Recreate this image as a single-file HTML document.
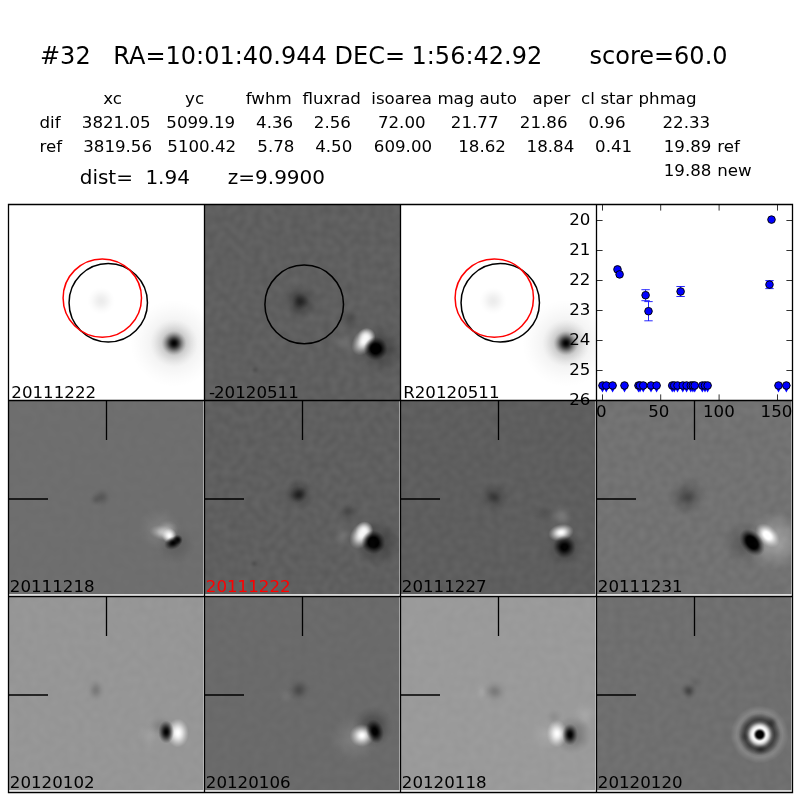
<!DOCTYPE html>
<html lang="en"><head><meta charset="utf-8"><title>candidate 32</title>
<style>
html,body{margin:0;padding:0;background:#fff;overflow:hidden}
svg{display:block;font-family:'DejaVu Sans','Liberation Sans',sans-serif;will-change:transform}
</style></head><body>
<svg width="800" height="800" viewBox="0 0 800 800">
<defs>
<radialGradient id="g1"><stop offset="0.000" stop-color="#000" stop-opacity="0.0900"/><stop offset="0.083" stop-color="#000" stop-opacity="0.0886"/><stop offset="0.167" stop-color="#000" stop-opacity="0.0844"/><stop offset="0.250" stop-color="#000" stop-opacity="0.0778"/><stop offset="0.333" stop-color="#000" stop-opacity="0.0693"/><stop offset="0.417" stop-color="#000" stop-opacity="0.0595"/><stop offset="0.500" stop-color="#000" stop-opacity="0.0490"/><stop offset="0.583" stop-color="#000" stop-opacity="0.0386"/><stop offset="0.667" stop-color="#000" stop-opacity="0.0287"/><stop offset="0.750" stop-color="#000" stop-opacity="0.0197"/><stop offset="0.833" stop-color="#000" stop-opacity="0.0119"/><stop offset="0.917" stop-color="#000" stop-opacity="0.0053"/><stop offset="1.000" stop-color="#000" stop-opacity="0.0000"/></radialGradient>
<radialGradient id="g2"><stop offset="0.000" stop-color="#000" stop-opacity="0.2800"/><stop offset="0.083" stop-color="#000" stop-opacity="0.2749"/><stop offset="0.167" stop-color="#000" stop-opacity="0.2600"/><stop offset="0.250" stop-color="#000" stop-opacity="0.2369"/><stop offset="0.333" stop-color="#000" stop-opacity="0.2075"/><stop offset="0.417" stop-color="#000" stop-opacity="0.1746"/><stop offset="0.500" stop-color="#000" stop-opacity="0.1405"/><stop offset="0.583" stop-color="#000" stop-opacity="0.1076"/><stop offset="0.667" stop-color="#000" stop-opacity="0.0775"/><stop offset="0.750" stop-color="#000" stop-opacity="0.0515"/><stop offset="0.833" stop-color="#000" stop-opacity="0.0299"/><stop offset="0.917" stop-color="#000" stop-opacity="0.0129"/><stop offset="1.000" stop-color="#000" stop-opacity="0.0000"/></radialGradient>
<radialGradient id="g3"><stop offset="0.000" stop-color="#000" stop-opacity="1.0000"/><stop offset="0.083" stop-color="#000" stop-opacity="0.9804"/><stop offset="0.167" stop-color="#000" stop-opacity="0.9237"/><stop offset="0.250" stop-color="#000" stop-opacity="0.8360"/><stop offset="0.333" stop-color="#000" stop-opacity="0.7259"/><stop offset="0.417" stop-color="#000" stop-opacity="0.6036"/><stop offset="0.500" stop-color="#000" stop-opacity="0.4792"/><stop offset="0.583" stop-color="#000" stop-opacity="0.3612"/><stop offset="0.667" stop-color="#000" stop-opacity="0.2558"/><stop offset="0.750" stop-color="#000" stop-opacity="0.1667"/><stop offset="0.833" stop-color="#000" stop-opacity="0.0951"/><stop offset="0.917" stop-color="#000" stop-opacity="0.0402"/><stop offset="1.000" stop-color="#000" stop-opacity="0.0000"/></radialGradient>
<radialGradient id="g4"><stop offset="0.000" stop-color="#000" stop-opacity="0.0750"/><stop offset="0.083" stop-color="#000" stop-opacity="0.0736"/><stop offset="0.167" stop-color="#000" stop-opacity="0.0696"/><stop offset="0.250" stop-color="#000" stop-opacity="0.0634"/><stop offset="0.333" stop-color="#000" stop-opacity="0.0556"/><stop offset="0.417" stop-color="#000" stop-opacity="0.0468"/><stop offset="0.500" stop-color="#000" stop-opacity="0.0376"/><stop offset="0.583" stop-color="#000" stop-opacity="0.0288"/><stop offset="0.667" stop-color="#000" stop-opacity="0.0208"/><stop offset="0.750" stop-color="#000" stop-opacity="0.0138"/><stop offset="0.833" stop-color="#000" stop-opacity="0.0080"/><stop offset="0.917" stop-color="#000" stop-opacity="0.0035"/><stop offset="1.000" stop-color="#000" stop-opacity="0.0000"/></radialGradient>
<clipPath id="c00"><rect x="8.5" y="204.5" width="196.0" height="196.0"/></clipPath>
<radialGradient id="g5"><stop offset="0.000" stop-color="#000" stop-opacity="0.3200"/><stop offset="0.083" stop-color="#000" stop-opacity="0.3141"/><stop offset="0.167" stop-color="#000" stop-opacity="0.2972"/><stop offset="0.250" stop-color="#000" stop-opacity="0.2707"/><stop offset="0.333" stop-color="#000" stop-opacity="0.2372"/><stop offset="0.417" stop-color="#000" stop-opacity="0.1995"/><stop offset="0.500" stop-color="#000" stop-opacity="0.1606"/><stop offset="0.583" stop-color="#000" stop-opacity="0.1229"/><stop offset="0.667" stop-color="#000" stop-opacity="0.0886"/><stop offset="0.750" stop-color="#000" stop-opacity="0.0588"/><stop offset="0.833" stop-color="#000" stop-opacity="0.0342"/><stop offset="0.917" stop-color="#000" stop-opacity="0.0147"/><stop offset="1.000" stop-color="#000" stop-opacity="0.0000"/></radialGradient>
<radialGradient id="g6"><stop offset="0.000" stop-color="#000" stop-opacity="0.4800"/><stop offset="0.083" stop-color="#000" stop-opacity="0.4712"/><stop offset="0.167" stop-color="#000" stop-opacity="0.4457"/><stop offset="0.250" stop-color="#000" stop-opacity="0.4060"/><stop offset="0.333" stop-color="#000" stop-opacity="0.3558"/><stop offset="0.417" stop-color="#000" stop-opacity="0.2993"/><stop offset="0.500" stop-color="#000" stop-opacity="0.2409"/><stop offset="0.583" stop-color="#000" stop-opacity="0.1844"/><stop offset="0.667" stop-color="#000" stop-opacity="0.1329"/><stop offset="0.750" stop-color="#000" stop-opacity="0.0882"/><stop offset="0.833" stop-color="#000" stop-opacity="0.0513"/><stop offset="0.917" stop-color="#000" stop-opacity="0.0221"/><stop offset="1.000" stop-color="#000" stop-opacity="0.0000"/></radialGradient>
<radialGradient id="g7"><stop offset="0.000" stop-color="#000" stop-opacity="0.1400"/><stop offset="0.083" stop-color="#000" stop-opacity="0.1366"/><stop offset="0.167" stop-color="#000" stop-opacity="0.1270"/><stop offset="0.250" stop-color="#000" stop-opacity="0.1124"/><stop offset="0.333" stop-color="#000" stop-opacity="0.0946"/><stop offset="0.417" stop-color="#000" stop-opacity="0.0757"/><stop offset="0.500" stop-color="#000" stop-opacity="0.0573"/><stop offset="0.583" stop-color="#000" stop-opacity="0.0410"/><stop offset="0.667" stop-color="#000" stop-opacity="0.0273"/><stop offset="0.750" stop-color="#000" stop-opacity="0.0167"/><stop offset="0.833" stop-color="#000" stop-opacity="0.0089"/><stop offset="0.917" stop-color="#000" stop-opacity="0.0035"/><stop offset="1.000" stop-color="#000" stop-opacity="0.0000"/></radialGradient>
<radialGradient id="g8"><stop offset="0.000" stop-color="#000" stop-opacity="0.3000"/><stop offset="0.083" stop-color="#000" stop-opacity="0.2952"/><stop offset="0.167" stop-color="#000" stop-opacity="0.2813"/><stop offset="0.250" stop-color="#000" stop-opacity="0.2592"/><stop offset="0.333" stop-color="#000" stop-opacity="0.2309"/><stop offset="0.417" stop-color="#000" stop-opacity="0.1982"/><stop offset="0.500" stop-color="#000" stop-opacity="0.1635"/><stop offset="0.583" stop-color="#000" stop-opacity="0.1287"/><stop offset="0.667" stop-color="#000" stop-opacity="0.0957"/><stop offset="0.750" stop-color="#000" stop-opacity="0.0657"/><stop offset="0.833" stop-color="#000" stop-opacity="0.0396"/><stop offset="0.917" stop-color="#000" stop-opacity="0.0177"/><stop offset="1.000" stop-color="#000" stop-opacity="0.0000"/></radialGradient>
<radialGradient id="g9"><stop offset="0.000" stop-color="#000" stop-opacity="0.2000"/><stop offset="0.083" stop-color="#000" stop-opacity="0.1952"/><stop offset="0.167" stop-color="#000" stop-opacity="0.1814"/><stop offset="0.250" stop-color="#000" stop-opacity="0.1606"/><stop offset="0.333" stop-color="#000" stop-opacity="0.1352"/><stop offset="0.417" stop-color="#000" stop-opacity="0.1081"/><stop offset="0.500" stop-color="#000" stop-opacity="0.0819"/><stop offset="0.583" stop-color="#000" stop-opacity="0.0585"/><stop offset="0.667" stop-color="#000" stop-opacity="0.0390"/><stop offset="0.750" stop-color="#000" stop-opacity="0.0239"/><stop offset="0.833" stop-color="#000" stop-opacity="0.0128"/><stop offset="0.917" stop-color="#000" stop-opacity="0.0050"/><stop offset="1.000" stop-color="#000" stop-opacity="0.0000"/></radialGradient>
<radialGradient id="g10"><stop offset="0.000" stop-color="#fff" stop-opacity="0.1000"/><stop offset="0.083" stop-color="#fff" stop-opacity="0.0976"/><stop offset="0.167" stop-color="#fff" stop-opacity="0.0907"/><stop offset="0.250" stop-color="#fff" stop-opacity="0.0803"/><stop offset="0.333" stop-color="#fff" stop-opacity="0.0676"/><stop offset="0.417" stop-color="#fff" stop-opacity="0.0540"/><stop offset="0.500" stop-color="#fff" stop-opacity="0.0409"/><stop offset="0.583" stop-color="#fff" stop-opacity="0.0293"/><stop offset="0.667" stop-color="#fff" stop-opacity="0.0195"/><stop offset="0.750" stop-color="#fff" stop-opacity="0.0119"/><stop offset="0.833" stop-color="#fff" stop-opacity="0.0064"/><stop offset="0.917" stop-color="#fff" stop-opacity="0.0025"/><stop offset="1.000" stop-color="#fff" stop-opacity="0.0000"/></radialGradient>
<radialGradient id="g11"><stop offset="0.000" stop-color="#fff" stop-opacity="0.9500"/><stop offset="0.083" stop-color="#fff" stop-opacity="0.9358"/><stop offset="0.167" stop-color="#fff" stop-opacity="0.8944"/><stop offset="0.250" stop-color="#fff" stop-opacity="0.8287"/><stop offset="0.333" stop-color="#fff" stop-opacity="0.7434"/><stop offset="0.417" stop-color="#fff" stop-opacity="0.6441"/><stop offset="0.500" stop-color="#fff" stop-opacity="0.5371"/><stop offset="0.583" stop-color="#fff" stop-opacity="0.4282"/><stop offset="0.667" stop-color="#fff" stop-opacity="0.3227"/><stop offset="0.750" stop-color="#fff" stop-opacity="0.2249"/><stop offset="0.833" stop-color="#fff" stop-opacity="0.1376"/><stop offset="0.917" stop-color="#fff" stop-opacity="0.0625"/><stop offset="1.000" stop-color="#fff" stop-opacity="0.0000"/></radialGradient>
<radialGradient id="g12"><stop offset="0.000" stop-color="#fff" stop-opacity="0.9000"/><stop offset="0.083" stop-color="#fff" stop-opacity="0.8856"/><stop offset="0.167" stop-color="#fff" stop-opacity="0.8438"/><stop offset="0.250" stop-color="#fff" stop-opacity="0.7777"/><stop offset="0.333" stop-color="#fff" stop-opacity="0.6926"/><stop offset="0.417" stop-color="#fff" stop-opacity="0.5947"/><stop offset="0.500" stop-color="#fff" stop-opacity="0.4905"/><stop offset="0.583" stop-color="#fff" stop-opacity="0.3862"/><stop offset="0.667" stop-color="#fff" stop-opacity="0.2870"/><stop offset="0.750" stop-color="#fff" stop-opacity="0.1971"/><stop offset="0.833" stop-color="#fff" stop-opacity="0.1187"/><stop offset="0.917" stop-color="#fff" stop-opacity="0.0530"/><stop offset="1.000" stop-color="#fff" stop-opacity="0.0000"/></radialGradient>
<radialGradient id="g13"><stop offset="0.000" stop-color="#000" stop-opacity="1.0000"/><stop offset="0.083" stop-color="#000" stop-opacity="1.0000"/><stop offset="0.167" stop-color="#000" stop-opacity="1.0000"/><stop offset="0.250" stop-color="#000" stop-opacity="1.0000"/><stop offset="0.333" stop-color="#000" stop-opacity="1.0000"/><stop offset="0.417" stop-color="#000" stop-opacity="0.9911"/><stop offset="0.500" stop-color="#000" stop-opacity="0.8174"/><stop offset="0.583" stop-color="#000" stop-opacity="0.6436"/><stop offset="0.667" stop-color="#000" stop-opacity="0.4784"/><stop offset="0.750" stop-color="#000" stop-opacity="0.3284"/><stop offset="0.833" stop-color="#000" stop-opacity="0.1978"/><stop offset="0.917" stop-color="#000" stop-opacity="0.0884"/><stop offset="1.000" stop-color="#000" stop-opacity="0.0000"/></radialGradient>
<clipPath id="c01"><rect x="204.5" y="204.5" width="196.0" height="196.0"/></clipPath>
<filter id="n01" x="0" y="0" width="100%" height="100%" color-interpolation-filters="sRGB"><feTurbulence type="fractalNoise" baseFrequency="0.13" numOctaves="1" seed="3" result="t"/><feColorMatrix in="t" type="matrix" values="0.07 0 0 0 0 0.07 0 0 0 0 0.07 0 0 0 0 0 0 0 0 1" result="n"/><feComposite in="SourceGraphic" in2="n" operator="arithmetic" k1="0" k2="1" k3="1" k4="-0.0350"/></filter>
<radialGradient id="g14"><stop offset="0.000" stop-color="#000" stop-opacity="0.0900"/><stop offset="0.083" stop-color="#000" stop-opacity="0.0886"/><stop offset="0.167" stop-color="#000" stop-opacity="0.0844"/><stop offset="0.250" stop-color="#000" stop-opacity="0.0778"/><stop offset="0.333" stop-color="#000" stop-opacity="0.0693"/><stop offset="0.417" stop-color="#000" stop-opacity="0.0595"/><stop offset="0.500" stop-color="#000" stop-opacity="0.0490"/><stop offset="0.583" stop-color="#000" stop-opacity="0.0386"/><stop offset="0.667" stop-color="#000" stop-opacity="0.0287"/><stop offset="0.750" stop-color="#000" stop-opacity="0.0197"/><stop offset="0.833" stop-color="#000" stop-opacity="0.0119"/><stop offset="0.917" stop-color="#000" stop-opacity="0.0053"/><stop offset="1.000" stop-color="#000" stop-opacity="0.0000"/></radialGradient>
<radialGradient id="g15"><stop offset="0.000" stop-color="#000" stop-opacity="0.2800"/><stop offset="0.083" stop-color="#000" stop-opacity="0.2749"/><stop offset="0.167" stop-color="#000" stop-opacity="0.2600"/><stop offset="0.250" stop-color="#000" stop-opacity="0.2369"/><stop offset="0.333" stop-color="#000" stop-opacity="0.2075"/><stop offset="0.417" stop-color="#000" stop-opacity="0.1746"/><stop offset="0.500" stop-color="#000" stop-opacity="0.1405"/><stop offset="0.583" stop-color="#000" stop-opacity="0.1076"/><stop offset="0.667" stop-color="#000" stop-opacity="0.0775"/><stop offset="0.750" stop-color="#000" stop-opacity="0.0515"/><stop offset="0.833" stop-color="#000" stop-opacity="0.0299"/><stop offset="0.917" stop-color="#000" stop-opacity="0.0129"/><stop offset="1.000" stop-color="#000" stop-opacity="0.0000"/></radialGradient>
<radialGradient id="g16"><stop offset="0.000" stop-color="#000" stop-opacity="1.0000"/><stop offset="0.083" stop-color="#000" stop-opacity="0.9804"/><stop offset="0.167" stop-color="#000" stop-opacity="0.9237"/><stop offset="0.250" stop-color="#000" stop-opacity="0.8360"/><stop offset="0.333" stop-color="#000" stop-opacity="0.7259"/><stop offset="0.417" stop-color="#000" stop-opacity="0.6036"/><stop offset="0.500" stop-color="#000" stop-opacity="0.4792"/><stop offset="0.583" stop-color="#000" stop-opacity="0.3612"/><stop offset="0.667" stop-color="#000" stop-opacity="0.2558"/><stop offset="0.750" stop-color="#000" stop-opacity="0.1667"/><stop offset="0.833" stop-color="#000" stop-opacity="0.0951"/><stop offset="0.917" stop-color="#000" stop-opacity="0.0402"/><stop offset="1.000" stop-color="#000" stop-opacity="0.0000"/></radialGradient>
<radialGradient id="g17"><stop offset="0.000" stop-color="#000" stop-opacity="0.0750"/><stop offset="0.083" stop-color="#000" stop-opacity="0.0736"/><stop offset="0.167" stop-color="#000" stop-opacity="0.0696"/><stop offset="0.250" stop-color="#000" stop-opacity="0.0634"/><stop offset="0.333" stop-color="#000" stop-opacity="0.0556"/><stop offset="0.417" stop-color="#000" stop-opacity="0.0468"/><stop offset="0.500" stop-color="#000" stop-opacity="0.0376"/><stop offset="0.583" stop-color="#000" stop-opacity="0.0288"/><stop offset="0.667" stop-color="#000" stop-opacity="0.0208"/><stop offset="0.750" stop-color="#000" stop-opacity="0.0138"/><stop offset="0.833" stop-color="#000" stop-opacity="0.0080"/><stop offset="0.917" stop-color="#000" stop-opacity="0.0035"/><stop offset="1.000" stop-color="#000" stop-opacity="0.0000"/></radialGradient>
<clipPath id="c02"><rect x="400.5" y="204.5" width="196.0" height="196.0"/></clipPath>
<radialGradient id="g18"><stop offset="0.000" stop-color="#000" stop-opacity="0.2000"/><stop offset="0.083" stop-color="#000" stop-opacity="0.1952"/><stop offset="0.167" stop-color="#000" stop-opacity="0.1814"/><stop offset="0.250" stop-color="#000" stop-opacity="0.1606"/><stop offset="0.333" stop-color="#000" stop-opacity="0.1352"/><stop offset="0.417" stop-color="#000" stop-opacity="0.1081"/><stop offset="0.500" stop-color="#000" stop-opacity="0.0819"/><stop offset="0.583" stop-color="#000" stop-opacity="0.0585"/><stop offset="0.667" stop-color="#000" stop-opacity="0.0390"/><stop offset="0.750" stop-color="#000" stop-opacity="0.0239"/><stop offset="0.833" stop-color="#000" stop-opacity="0.0128"/><stop offset="0.917" stop-color="#000" stop-opacity="0.0050"/><stop offset="1.000" stop-color="#000" stop-opacity="0.0000"/></radialGradient>
<radialGradient id="g19"><stop offset="0.000" stop-color="#000" stop-opacity="0.1300"/><stop offset="0.083" stop-color="#000" stop-opacity="0.1269"/><stop offset="0.167" stop-color="#000" stop-opacity="0.1179"/><stop offset="0.250" stop-color="#000" stop-opacity="0.1044"/><stop offset="0.333" stop-color="#000" stop-opacity="0.0879"/><stop offset="0.417" stop-color="#000" stop-opacity="0.0703"/><stop offset="0.500" stop-color="#000" stop-opacity="0.0532"/><stop offset="0.583" stop-color="#000" stop-opacity="0.0380"/><stop offset="0.667" stop-color="#000" stop-opacity="0.0254"/><stop offset="0.750" stop-color="#000" stop-opacity="0.0155"/><stop offset="0.833" stop-color="#000" stop-opacity="0.0083"/><stop offset="0.917" stop-color="#000" stop-opacity="0.0033"/><stop offset="1.000" stop-color="#000" stop-opacity="0.0000"/></radialGradient>
<radialGradient id="g20"><stop offset="0.000" stop-color="#fff" stop-opacity="0.1000"/><stop offset="0.083" stop-color="#fff" stop-opacity="0.0986"/><stop offset="0.167" stop-color="#fff" stop-opacity="0.0945"/><stop offset="0.250" stop-color="#fff" stop-opacity="0.0880"/><stop offset="0.333" stop-color="#fff" stop-opacity="0.0795"/><stop offset="0.417" stop-color="#fff" stop-opacity="0.0694"/><stop offset="0.500" stop-color="#fff" stop-opacity="0.0585"/><stop offset="0.583" stop-color="#fff" stop-opacity="0.0472"/><stop offset="0.667" stop-color="#fff" stop-opacity="0.0360"/><stop offset="0.750" stop-color="#fff" stop-opacity="0.0254"/><stop offset="0.833" stop-color="#fff" stop-opacity="0.0158"/><stop offset="0.917" stop-color="#fff" stop-opacity="0.0073"/><stop offset="1.000" stop-color="#fff" stop-opacity="0.0000"/></radialGradient>
<radialGradient id="g21"><stop offset="0.000" stop-color="#000" stop-opacity="0.1300"/><stop offset="0.083" stop-color="#000" stop-opacity="0.1282"/><stop offset="0.167" stop-color="#000" stop-opacity="0.1229"/><stop offset="0.250" stop-color="#000" stop-opacity="0.1144"/><stop offset="0.333" stop-color="#000" stop-opacity="0.1033"/><stop offset="0.417" stop-color="#000" stop-opacity="0.0903"/><stop offset="0.500" stop-color="#000" stop-opacity="0.0760"/><stop offset="0.583" stop-color="#000" stop-opacity="0.0613"/><stop offset="0.667" stop-color="#000" stop-opacity="0.0468"/><stop offset="0.750" stop-color="#000" stop-opacity="0.0331"/><stop offset="0.833" stop-color="#000" stop-opacity="0.0205"/><stop offset="0.917" stop-color="#000" stop-opacity="0.0095"/><stop offset="1.000" stop-color="#000" stop-opacity="0.0000"/></radialGradient>
<radialGradient id="g22"><stop offset="0.000" stop-color="#fff" stop-opacity="0.4500"/><stop offset="0.083" stop-color="#fff" stop-opacity="0.4428"/><stop offset="0.167" stop-color="#fff" stop-opacity="0.4219"/><stop offset="0.250" stop-color="#fff" stop-opacity="0.3888"/><stop offset="0.333" stop-color="#fff" stop-opacity="0.3463"/><stop offset="0.417" stop-color="#fff" stop-opacity="0.2973"/><stop offset="0.500" stop-color="#fff" stop-opacity="0.2452"/><stop offset="0.583" stop-color="#fff" stop-opacity="0.1931"/><stop offset="0.667" stop-color="#fff" stop-opacity="0.1435"/><stop offset="0.750" stop-color="#fff" stop-opacity="0.0985"/><stop offset="0.833" stop-color="#fff" stop-opacity="0.0593"/><stop offset="0.917" stop-color="#fff" stop-opacity="0.0265"/><stop offset="1.000" stop-color="#fff" stop-opacity="0.0000"/></radialGradient>
<radialGradient id="g23"><stop offset="0.000" stop-color="#fff" stop-opacity="0.3200"/><stop offset="0.083" stop-color="#fff" stop-opacity="0.3149"/><stop offset="0.167" stop-color="#fff" stop-opacity="0.3000"/><stop offset="0.250" stop-color="#fff" stop-opacity="0.2765"/><stop offset="0.333" stop-color="#fff" stop-opacity="0.2463"/><stop offset="0.417" stop-color="#fff" stop-opacity="0.2114"/><stop offset="0.500" stop-color="#fff" stop-opacity="0.1744"/><stop offset="0.583" stop-color="#fff" stop-opacity="0.1373"/><stop offset="0.667" stop-color="#fff" stop-opacity="0.1021"/><stop offset="0.750" stop-color="#fff" stop-opacity="0.0701"/><stop offset="0.833" stop-color="#fff" stop-opacity="0.0422"/><stop offset="0.917" stop-color="#fff" stop-opacity="0.0189"/><stop offset="1.000" stop-color="#fff" stop-opacity="0.0000"/></radialGradient>
<radialGradient id="g24"><stop offset="0.000" stop-color="#fff" stop-opacity="1.0000"/><stop offset="0.083" stop-color="#fff" stop-opacity="0.9840"/><stop offset="0.167" stop-color="#fff" stop-opacity="0.9375"/><stop offset="0.250" stop-color="#fff" stop-opacity="0.8641"/><stop offset="0.333" stop-color="#fff" stop-opacity="0.7695"/><stop offset="0.417" stop-color="#fff" stop-opacity="0.6607"/><stop offset="0.500" stop-color="#fff" stop-opacity="0.5449"/><stop offset="0.583" stop-color="#fff" stop-opacity="0.4291"/><stop offset="0.667" stop-color="#fff" stop-opacity="0.3189"/><stop offset="0.750" stop-color="#fff" stop-opacity="0.2189"/><stop offset="0.833" stop-color="#fff" stop-opacity="0.1319"/><stop offset="0.917" stop-color="#fff" stop-opacity="0.0589"/><stop offset="1.000" stop-color="#fff" stop-opacity="0.0000"/></radialGradient>
<radialGradient id="g25"><stop offset="0.000" stop-color="#000" stop-opacity="1.0000"/><stop offset="0.083" stop-color="#000" stop-opacity="0.9851"/><stop offset="0.167" stop-color="#000" stop-opacity="0.9415"/><stop offset="0.250" stop-color="#000" stop-opacity="0.8723"/><stop offset="0.333" stop-color="#000" stop-opacity="0.7825"/><stop offset="0.417" stop-color="#000" stop-opacity="0.6780"/><stop offset="0.500" stop-color="#000" stop-opacity="0.5653"/><stop offset="0.583" stop-color="#000" stop-opacity="0.4507"/><stop offset="0.667" stop-color="#000" stop-opacity="0.3397"/><stop offset="0.750" stop-color="#000" stop-opacity="0.2368"/><stop offset="0.833" stop-color="#000" stop-opacity="0.1449"/><stop offset="0.917" stop-color="#000" stop-opacity="0.0658"/><stop offset="1.000" stop-color="#000" stop-opacity="0.0000"/></radialGradient>
<radialGradient id="g26"><stop offset="0.000" stop-color="#000" stop-opacity="0.9000"/><stop offset="0.083" stop-color="#000" stop-opacity="0.8866"/><stop offset="0.167" stop-color="#000" stop-opacity="0.8473"/><stop offset="0.250" stop-color="#000" stop-opacity="0.7851"/><stop offset="0.333" stop-color="#000" stop-opacity="0.7043"/><stop offset="0.417" stop-color="#000" stop-opacity="0.6102"/><stop offset="0.500" stop-color="#000" stop-opacity="0.5088"/><stop offset="0.583" stop-color="#000" stop-opacity="0.4057"/><stop offset="0.667" stop-color="#000" stop-opacity="0.3058"/><stop offset="0.750" stop-color="#000" stop-opacity="0.2131"/><stop offset="0.833" stop-color="#000" stop-opacity="0.1304"/><stop offset="0.917" stop-color="#000" stop-opacity="0.0592"/><stop offset="1.000" stop-color="#000" stop-opacity="0.0000"/></radialGradient>
<clipPath id="c10"><rect x="8.5" y="400.5" width="194.9" height="193.75"/></clipPath>
<filter id="n10" x="0" y="0" width="100%" height="100%" color-interpolation-filters="sRGB"><feTurbulence type="fractalNoise" baseFrequency="0.13" numOctaves="1" seed="6" result="t"/><feColorMatrix in="t" type="matrix" values="0.02 0 0 0 0 0.02 0 0 0 0 0.02 0 0 0 0 0 0 0 0 1" result="n"/><feComposite in="SourceGraphic" in2="n" operator="arithmetic" k1="0" k2="1" k3="1" k4="-0.0100"/></filter>
<radialGradient id="g27"><stop offset="0.000" stop-color="#000" stop-opacity="0.3200"/><stop offset="0.083" stop-color="#000" stop-opacity="0.3141"/><stop offset="0.167" stop-color="#000" stop-opacity="0.2972"/><stop offset="0.250" stop-color="#000" stop-opacity="0.2707"/><stop offset="0.333" stop-color="#000" stop-opacity="0.2372"/><stop offset="0.417" stop-color="#000" stop-opacity="0.1995"/><stop offset="0.500" stop-color="#000" stop-opacity="0.1606"/><stop offset="0.583" stop-color="#000" stop-opacity="0.1229"/><stop offset="0.667" stop-color="#000" stop-opacity="0.0886"/><stop offset="0.750" stop-color="#000" stop-opacity="0.0588"/><stop offset="0.833" stop-color="#000" stop-opacity="0.0342"/><stop offset="0.917" stop-color="#000" stop-opacity="0.0147"/><stop offset="1.000" stop-color="#000" stop-opacity="0.0000"/></radialGradient>
<radialGradient id="g28"><stop offset="0.000" stop-color="#000" stop-opacity="0.4600"/><stop offset="0.083" stop-color="#000" stop-opacity="0.4516"/><stop offset="0.167" stop-color="#000" stop-opacity="0.4272"/><stop offset="0.250" stop-color="#000" stop-opacity="0.3891"/><stop offset="0.333" stop-color="#000" stop-opacity="0.3410"/><stop offset="0.417" stop-color="#000" stop-opacity="0.2868"/><stop offset="0.500" stop-color="#000" stop-opacity="0.2308"/><stop offset="0.583" stop-color="#000" stop-opacity="0.1767"/><stop offset="0.667" stop-color="#000" stop-opacity="0.1273"/><stop offset="0.750" stop-color="#000" stop-opacity="0.0845"/><stop offset="0.833" stop-color="#000" stop-opacity="0.0492"/><stop offset="0.917" stop-color="#000" stop-opacity="0.0212"/><stop offset="1.000" stop-color="#000" stop-opacity="0.0000"/></radialGradient>
<radialGradient id="g29"><stop offset="0.000" stop-color="#000" stop-opacity="0.1400"/><stop offset="0.083" stop-color="#000" stop-opacity="0.1366"/><stop offset="0.167" stop-color="#000" stop-opacity="0.1270"/><stop offset="0.250" stop-color="#000" stop-opacity="0.1124"/><stop offset="0.333" stop-color="#000" stop-opacity="0.0946"/><stop offset="0.417" stop-color="#000" stop-opacity="0.0757"/><stop offset="0.500" stop-color="#000" stop-opacity="0.0573"/><stop offset="0.583" stop-color="#000" stop-opacity="0.0410"/><stop offset="0.667" stop-color="#000" stop-opacity="0.0273"/><stop offset="0.750" stop-color="#000" stop-opacity="0.0167"/><stop offset="0.833" stop-color="#000" stop-opacity="0.0089"/><stop offset="0.917" stop-color="#000" stop-opacity="0.0035"/><stop offset="1.000" stop-color="#000" stop-opacity="0.0000"/></radialGradient>
<radialGradient id="g30"><stop offset="0.000" stop-color="#000" stop-opacity="0.3000"/><stop offset="0.083" stop-color="#000" stop-opacity="0.2952"/><stop offset="0.167" stop-color="#000" stop-opacity="0.2813"/><stop offset="0.250" stop-color="#000" stop-opacity="0.2592"/><stop offset="0.333" stop-color="#000" stop-opacity="0.2309"/><stop offset="0.417" stop-color="#000" stop-opacity="0.1982"/><stop offset="0.500" stop-color="#000" stop-opacity="0.1635"/><stop offset="0.583" stop-color="#000" stop-opacity="0.1287"/><stop offset="0.667" stop-color="#000" stop-opacity="0.0957"/><stop offset="0.750" stop-color="#000" stop-opacity="0.0657"/><stop offset="0.833" stop-color="#000" stop-opacity="0.0396"/><stop offset="0.917" stop-color="#000" stop-opacity="0.0177"/><stop offset="1.000" stop-color="#000" stop-opacity="0.0000"/></radialGradient>
<radialGradient id="g31"><stop offset="0.000" stop-color="#000" stop-opacity="0.2000"/><stop offset="0.083" stop-color="#000" stop-opacity="0.1952"/><stop offset="0.167" stop-color="#000" stop-opacity="0.1814"/><stop offset="0.250" stop-color="#000" stop-opacity="0.1606"/><stop offset="0.333" stop-color="#000" stop-opacity="0.1352"/><stop offset="0.417" stop-color="#000" stop-opacity="0.1081"/><stop offset="0.500" stop-color="#000" stop-opacity="0.0819"/><stop offset="0.583" stop-color="#000" stop-opacity="0.0585"/><stop offset="0.667" stop-color="#000" stop-opacity="0.0390"/><stop offset="0.750" stop-color="#000" stop-opacity="0.0239"/><stop offset="0.833" stop-color="#000" stop-opacity="0.0128"/><stop offset="0.917" stop-color="#000" stop-opacity="0.0050"/><stop offset="1.000" stop-color="#000" stop-opacity="0.0000"/></radialGradient>
<radialGradient id="g32"><stop offset="0.000" stop-color="#fff" stop-opacity="0.1000"/><stop offset="0.083" stop-color="#fff" stop-opacity="0.0976"/><stop offset="0.167" stop-color="#fff" stop-opacity="0.0907"/><stop offset="0.250" stop-color="#fff" stop-opacity="0.0803"/><stop offset="0.333" stop-color="#fff" stop-opacity="0.0676"/><stop offset="0.417" stop-color="#fff" stop-opacity="0.0540"/><stop offset="0.500" stop-color="#fff" stop-opacity="0.0409"/><stop offset="0.583" stop-color="#fff" stop-opacity="0.0293"/><stop offset="0.667" stop-color="#fff" stop-opacity="0.0195"/><stop offset="0.750" stop-color="#fff" stop-opacity="0.0119"/><stop offset="0.833" stop-color="#fff" stop-opacity="0.0064"/><stop offset="0.917" stop-color="#fff" stop-opacity="0.0025"/><stop offset="1.000" stop-color="#fff" stop-opacity="0.0000"/></radialGradient>
<radialGradient id="g33"><stop offset="0.000" stop-color="#fff" stop-opacity="0.9500"/><stop offset="0.083" stop-color="#fff" stop-opacity="0.9358"/><stop offset="0.167" stop-color="#fff" stop-opacity="0.8944"/><stop offset="0.250" stop-color="#fff" stop-opacity="0.8287"/><stop offset="0.333" stop-color="#fff" stop-opacity="0.7434"/><stop offset="0.417" stop-color="#fff" stop-opacity="0.6441"/><stop offset="0.500" stop-color="#fff" stop-opacity="0.5371"/><stop offset="0.583" stop-color="#fff" stop-opacity="0.4282"/><stop offset="0.667" stop-color="#fff" stop-opacity="0.3227"/><stop offset="0.750" stop-color="#fff" stop-opacity="0.2249"/><stop offset="0.833" stop-color="#fff" stop-opacity="0.1376"/><stop offset="0.917" stop-color="#fff" stop-opacity="0.0625"/><stop offset="1.000" stop-color="#fff" stop-opacity="0.0000"/></radialGradient>
<radialGradient id="g34"><stop offset="0.000" stop-color="#fff" stop-opacity="0.9000"/><stop offset="0.083" stop-color="#fff" stop-opacity="0.8856"/><stop offset="0.167" stop-color="#fff" stop-opacity="0.8438"/><stop offset="0.250" stop-color="#fff" stop-opacity="0.7777"/><stop offset="0.333" stop-color="#fff" stop-opacity="0.6926"/><stop offset="0.417" stop-color="#fff" stop-opacity="0.5947"/><stop offset="0.500" stop-color="#fff" stop-opacity="0.4905"/><stop offset="0.583" stop-color="#fff" stop-opacity="0.3862"/><stop offset="0.667" stop-color="#fff" stop-opacity="0.2870"/><stop offset="0.750" stop-color="#fff" stop-opacity="0.1971"/><stop offset="0.833" stop-color="#fff" stop-opacity="0.1187"/><stop offset="0.917" stop-color="#fff" stop-opacity="0.0530"/><stop offset="1.000" stop-color="#fff" stop-opacity="0.0000"/></radialGradient>
<radialGradient id="g35"><stop offset="0.000" stop-color="#000" stop-opacity="1.0000"/><stop offset="0.083" stop-color="#000" stop-opacity="1.0000"/><stop offset="0.167" stop-color="#000" stop-opacity="1.0000"/><stop offset="0.250" stop-color="#000" stop-opacity="1.0000"/><stop offset="0.333" stop-color="#000" stop-opacity="1.0000"/><stop offset="0.417" stop-color="#000" stop-opacity="0.9911"/><stop offset="0.500" stop-color="#000" stop-opacity="0.8174"/><stop offset="0.583" stop-color="#000" stop-opacity="0.6436"/><stop offset="0.667" stop-color="#000" stop-opacity="0.4784"/><stop offset="0.750" stop-color="#000" stop-opacity="0.3284"/><stop offset="0.833" stop-color="#000" stop-opacity="0.1978"/><stop offset="0.917" stop-color="#000" stop-opacity="0.0884"/><stop offset="1.000" stop-color="#000" stop-opacity="0.0000"/></radialGradient>
<clipPath id="c11"><rect x="204.5" y="400.5" width="194.89999999999998" height="193.75"/></clipPath>
<filter id="n11" x="0" y="0" width="100%" height="100%" color-interpolation-filters="sRGB"><feTurbulence type="fractalNoise" baseFrequency="0.13" numOctaves="1" seed="7" result="t"/><feColorMatrix in="t" type="matrix" values="0.07 0 0 0 0 0.07 0 0 0 0 0.07 0 0 0 0 0 0 0 0 1" result="n"/><feComposite in="SourceGraphic" in2="n" operator="arithmetic" k1="0" k2="1" k3="1" k4="-0.0350"/></filter>
<radialGradient id="g36"><stop offset="0.000" stop-color="#000" stop-opacity="0.2700"/><stop offset="0.083" stop-color="#000" stop-opacity="0.2651"/><stop offset="0.167" stop-color="#000" stop-opacity="0.2507"/><stop offset="0.250" stop-color="#000" stop-opacity="0.2284"/><stop offset="0.333" stop-color="#000" stop-opacity="0.2001"/><stop offset="0.417" stop-color="#000" stop-opacity="0.1683"/><stop offset="0.500" stop-color="#000" stop-opacity="0.1355"/><stop offset="0.583" stop-color="#000" stop-opacity="0.1037"/><stop offset="0.667" stop-color="#000" stop-opacity="0.0747"/><stop offset="0.750" stop-color="#000" stop-opacity="0.0496"/><stop offset="0.833" stop-color="#000" stop-opacity="0.0288"/><stop offset="0.917" stop-color="#000" stop-opacity="0.0124"/><stop offset="1.000" stop-color="#000" stop-opacity="0.0000"/></radialGradient>
<radialGradient id="g37"><stop offset="0.000" stop-color="#000" stop-opacity="0.1600"/><stop offset="0.083" stop-color="#000" stop-opacity="0.1571"/><stop offset="0.167" stop-color="#000" stop-opacity="0.1486"/><stop offset="0.250" stop-color="#000" stop-opacity="0.1353"/><stop offset="0.333" stop-color="#000" stop-opacity="0.1186"/><stop offset="0.417" stop-color="#000" stop-opacity="0.0998"/><stop offset="0.500" stop-color="#000" stop-opacity="0.0803"/><stop offset="0.583" stop-color="#000" stop-opacity="0.0615"/><stop offset="0.667" stop-color="#000" stop-opacity="0.0443"/><stop offset="0.750" stop-color="#000" stop-opacity="0.0294"/><stop offset="0.833" stop-color="#000" stop-opacity="0.0171"/><stop offset="0.917" stop-color="#000" stop-opacity="0.0074"/><stop offset="1.000" stop-color="#000" stop-opacity="0.0000"/></radialGradient>
<radialGradient id="g38"><stop offset="0.000" stop-color="#fff" stop-opacity="0.1500"/><stop offset="0.083" stop-color="#fff" stop-opacity="0.1464"/><stop offset="0.167" stop-color="#fff" stop-opacity="0.1361"/><stop offset="0.250" stop-color="#fff" stop-opacity="0.1204"/><stop offset="0.333" stop-color="#fff" stop-opacity="0.1014"/><stop offset="0.417" stop-color="#fff" stop-opacity="0.0811"/><stop offset="0.500" stop-color="#fff" stop-opacity="0.0614"/><stop offset="0.583" stop-color="#fff" stop-opacity="0.0439"/><stop offset="0.667" stop-color="#fff" stop-opacity="0.0293"/><stop offset="0.750" stop-color="#fff" stop-opacity="0.0179"/><stop offset="0.833" stop-color="#fff" stop-opacity="0.0096"/><stop offset="0.917" stop-color="#fff" stop-opacity="0.0038"/><stop offset="1.000" stop-color="#fff" stop-opacity="0.0000"/></radialGradient>
<radialGradient id="g39"><stop offset="0.000" stop-color="#000" stop-opacity="0.1200"/><stop offset="0.083" stop-color="#000" stop-opacity="0.1171"/><stop offset="0.167" stop-color="#000" stop-opacity="0.1089"/><stop offset="0.250" stop-color="#000" stop-opacity="0.0963"/><stop offset="0.333" stop-color="#000" stop-opacity="0.0811"/><stop offset="0.417" stop-color="#000" stop-opacity="0.0649"/><stop offset="0.500" stop-color="#000" stop-opacity="0.0491"/><stop offset="0.583" stop-color="#000" stop-opacity="0.0351"/><stop offset="0.667" stop-color="#000" stop-opacity="0.0234"/><stop offset="0.750" stop-color="#000" stop-opacity="0.0143"/><stop offset="0.833" stop-color="#000" stop-opacity="0.0077"/><stop offset="0.917" stop-color="#000" stop-opacity="0.0030"/><stop offset="1.000" stop-color="#000" stop-opacity="0.0000"/></radialGradient>
<radialGradient id="g40"><stop offset="0.000" stop-color="#000" stop-opacity="0.2000"/><stop offset="0.083" stop-color="#000" stop-opacity="0.1972"/><stop offset="0.167" stop-color="#000" stop-opacity="0.1890"/><stop offset="0.250" stop-color="#000" stop-opacity="0.1760"/><stop offset="0.333" stop-color="#000" stop-opacity="0.1589"/><stop offset="0.417" stop-color="#000" stop-opacity="0.1389"/><stop offset="0.500" stop-color="#000" stop-opacity="0.1170"/><stop offset="0.583" stop-color="#000" stop-opacity="0.0943"/><stop offset="0.667" stop-color="#000" stop-opacity="0.0720"/><stop offset="0.750" stop-color="#000" stop-opacity="0.0509"/><stop offset="0.833" stop-color="#000" stop-opacity="0.0316"/><stop offset="0.917" stop-color="#000" stop-opacity="0.0146"/><stop offset="1.000" stop-color="#000" stop-opacity="0.0000"/></radialGradient>
<radialGradient id="g41"><stop offset="0.000" stop-color="#fff" stop-opacity="1.0000"/><stop offset="0.083" stop-color="#fff" stop-opacity="0.9851"/><stop offset="0.167" stop-color="#fff" stop-opacity="0.9415"/><stop offset="0.250" stop-color="#fff" stop-opacity="0.8723"/><stop offset="0.333" stop-color="#fff" stop-opacity="0.7825"/><stop offset="0.417" stop-color="#fff" stop-opacity="0.6780"/><stop offset="0.500" stop-color="#fff" stop-opacity="0.5653"/><stop offset="0.583" stop-color="#fff" stop-opacity="0.4507"/><stop offset="0.667" stop-color="#fff" stop-opacity="0.3397"/><stop offset="0.750" stop-color="#fff" stop-opacity="0.2368"/><stop offset="0.833" stop-color="#fff" stop-opacity="0.1449"/><stop offset="0.917" stop-color="#fff" stop-opacity="0.0658"/><stop offset="1.000" stop-color="#fff" stop-opacity="0.0000"/></radialGradient>
<radialGradient id="g42"><stop offset="0.000" stop-color="#000" stop-opacity="1.0000"/><stop offset="0.083" stop-color="#000" stop-opacity="1.0000"/><stop offset="0.167" stop-color="#000" stop-opacity="1.0000"/><stop offset="0.250" stop-color="#000" stop-opacity="0.9937"/><stop offset="0.333" stop-color="#000" stop-opacity="0.8850"/><stop offset="0.417" stop-color="#000" stop-opacity="0.7598"/><stop offset="0.500" stop-color="#000" stop-opacity="0.6267"/><stop offset="0.583" stop-color="#000" stop-opacity="0.4934"/><stop offset="0.667" stop-color="#000" stop-opacity="0.3668"/><stop offset="0.750" stop-color="#000" stop-opacity="0.2518"/><stop offset="0.833" stop-color="#000" stop-opacity="0.1516"/><stop offset="0.917" stop-color="#000" stop-opacity="0.0677"/><stop offset="1.000" stop-color="#000" stop-opacity="0.0000"/></radialGradient>
<clipPath id="c12"><rect x="400.5" y="400.5" width="194.89999999999998" height="193.75"/></clipPath>
<filter id="n12" x="0" y="0" width="100%" height="100%" color-interpolation-filters="sRGB"><feTurbulence type="fractalNoise" baseFrequency="0.13" numOctaves="1" seed="8" result="t"/><feColorMatrix in="t" type="matrix" values="0.055 0 0 0 0 0.055 0 0 0 0 0.055 0 0 0 0 0 0 0 0 1" result="n"/><feComposite in="SourceGraphic" in2="n" operator="arithmetic" k1="0" k2="1" k3="1" k4="-0.0275"/></filter>
<radialGradient id="g43"><stop offset="0.000" stop-color="#000" stop-opacity="0.2700"/><stop offset="0.083" stop-color="#000" stop-opacity="0.2654"/><stop offset="0.167" stop-color="#000" stop-opacity="0.2520"/><stop offset="0.250" stop-color="#000" stop-opacity="0.2309"/><stop offset="0.333" stop-color="#000" stop-opacity="0.2041"/><stop offset="0.417" stop-color="#000" stop-opacity="0.1735"/><stop offset="0.500" stop-color="#000" stop-opacity="0.1414"/><stop offset="0.583" stop-color="#000" stop-opacity="0.1098"/><stop offset="0.667" stop-color="#000" stop-opacity="0.0804"/><stop offset="0.750" stop-color="#000" stop-opacity="0.0543"/><stop offset="0.833" stop-color="#000" stop-opacity="0.0322"/><stop offset="0.917" stop-color="#000" stop-opacity="0.0141"/><stop offset="1.000" stop-color="#000" stop-opacity="0.0000"/></radialGradient>
<radialGradient id="g44"><stop offset="0.000" stop-color="#000" stop-opacity="0.1500"/><stop offset="0.083" stop-color="#000" stop-opacity="0.1474"/><stop offset="0.167" stop-color="#000" stop-opacity="0.1400"/><stop offset="0.250" stop-color="#000" stop-opacity="0.1283"/><stop offset="0.333" stop-color="#000" stop-opacity="0.1134"/><stop offset="0.417" stop-color="#000" stop-opacity="0.0964"/><stop offset="0.500" stop-color="#000" stop-opacity="0.0786"/><stop offset="0.583" stop-color="#000" stop-opacity="0.0610"/><stop offset="0.667" stop-color="#000" stop-opacity="0.0447"/><stop offset="0.750" stop-color="#000" stop-opacity="0.0302"/><stop offset="0.833" stop-color="#000" stop-opacity="0.0179"/><stop offset="0.917" stop-color="#000" stop-opacity="0.0078"/><stop offset="1.000" stop-color="#000" stop-opacity="0.0000"/></radialGradient>
<radialGradient id="g45"><stop offset="0.000" stop-color="#fff" stop-opacity="0.3000"/><stop offset="0.083" stop-color="#fff" stop-opacity="0.2958"/><stop offset="0.167" stop-color="#fff" stop-opacity="0.2835"/><stop offset="0.250" stop-color="#fff" stop-opacity="0.2640"/><stop offset="0.333" stop-color="#fff" stop-opacity="0.2384"/><stop offset="0.417" stop-color="#fff" stop-opacity="0.2083"/><stop offset="0.500" stop-color="#fff" stop-opacity="0.1754"/><stop offset="0.583" stop-color="#fff" stop-opacity="0.1415"/><stop offset="0.667" stop-color="#fff" stop-opacity="0.1080"/><stop offset="0.750" stop-color="#fff" stop-opacity="0.0763"/><stop offset="0.833" stop-color="#fff" stop-opacity="0.0474"/><stop offset="0.917" stop-color="#fff" stop-opacity="0.0219"/><stop offset="1.000" stop-color="#fff" stop-opacity="0.0000"/></radialGradient>
<radialGradient id="g46"><stop offset="0.000" stop-color="#000" stop-opacity="0.2000"/><stop offset="0.083" stop-color="#000" stop-opacity="0.1972"/><stop offset="0.167" stop-color="#000" stop-opacity="0.1890"/><stop offset="0.250" stop-color="#000" stop-opacity="0.1760"/><stop offset="0.333" stop-color="#000" stop-opacity="0.1589"/><stop offset="0.417" stop-color="#000" stop-opacity="0.1389"/><stop offset="0.500" stop-color="#000" stop-opacity="0.1170"/><stop offset="0.583" stop-color="#000" stop-opacity="0.0943"/><stop offset="0.667" stop-color="#000" stop-opacity="0.0720"/><stop offset="0.750" stop-color="#000" stop-opacity="0.0509"/><stop offset="0.833" stop-color="#000" stop-opacity="0.0316"/><stop offset="0.917" stop-color="#000" stop-opacity="0.0146"/><stop offset="1.000" stop-color="#000" stop-opacity="0.0000"/></radialGradient>
<radialGradient id="g47"><stop offset="0.000" stop-color="#fff" stop-opacity="1.0000"/><stop offset="0.083" stop-color="#fff" stop-opacity="1.0000"/><stop offset="0.167" stop-color="#fff" stop-opacity="1.0000"/><stop offset="0.250" stop-color="#fff" stop-opacity="1.0000"/><stop offset="0.333" stop-color="#fff" stop-opacity="0.9447"/><stop offset="0.417" stop-color="#fff" stop-opacity="0.8032"/><stop offset="0.500" stop-color="#fff" stop-opacity="0.6546"/><stop offset="0.583" stop-color="#fff" stop-opacity="0.5085"/><stop offset="0.667" stop-color="#fff" stop-opacity="0.3724"/><stop offset="0.750" stop-color="#fff" stop-opacity="0.2515"/><stop offset="0.833" stop-color="#fff" stop-opacity="0.1489"/><stop offset="0.917" stop-color="#fff" stop-opacity="0.0654"/><stop offset="1.000" stop-color="#fff" stop-opacity="0.0000"/></radialGradient>
<radialGradient id="g48"><stop offset="0.000" stop-color="#000" stop-opacity="1.0000"/><stop offset="0.083" stop-color="#000" stop-opacity="1.0000"/><stop offset="0.167" stop-color="#000" stop-opacity="1.0000"/><stop offset="0.250" stop-color="#000" stop-opacity="1.0000"/><stop offset="0.333" stop-color="#000" stop-opacity="1.0000"/><stop offset="0.417" stop-color="#000" stop-opacity="1.0000"/><stop offset="0.500" stop-color="#000" stop-opacity="0.8903"/><stop offset="0.583" stop-color="#000" stop-opacity="0.6916"/><stop offset="0.667" stop-color="#000" stop-opacity="0.5064"/><stop offset="0.750" stop-color="#000" stop-opacity="0.3421"/><stop offset="0.833" stop-color="#000" stop-opacity="0.2026"/><stop offset="0.917" stop-color="#000" stop-opacity="0.0889"/><stop offset="1.000" stop-color="#000" stop-opacity="0.0000"/></radialGradient>
<clipPath id="c13"><rect x="596.5" y="400.5" width="194.89999999999998" height="193.75"/></clipPath>
<filter id="n13" x="0" y="0" width="100%" height="100%" color-interpolation-filters="sRGB"><feTurbulence type="fractalNoise" baseFrequency="0.13" numOctaves="1" seed="9" result="t"/><feColorMatrix in="t" type="matrix" values="0.06 0 0 0 0 0.06 0 0 0 0 0.06 0 0 0 0 0 0 0 0 1" result="n"/><feComposite in="SourceGraphic" in2="n" operator="arithmetic" k1="0" k2="1" k3="1" k4="-0.0300"/></filter>
<radialGradient id="g49"><stop offset="0.000" stop-color="#000" stop-opacity="0.1900"/><stop offset="0.083" stop-color="#000" stop-opacity="0.1854"/><stop offset="0.167" stop-color="#000" stop-opacity="0.1724"/><stop offset="0.250" stop-color="#000" stop-opacity="0.1525"/><stop offset="0.333" stop-color="#000" stop-opacity="0.1284"/><stop offset="0.417" stop-color="#000" stop-opacity="0.1027"/><stop offset="0.500" stop-color="#000" stop-opacity="0.0778"/><stop offset="0.583" stop-color="#000" stop-opacity="0.0556"/><stop offset="0.667" stop-color="#000" stop-opacity="0.0371"/><stop offset="0.750" stop-color="#000" stop-opacity="0.0227"/><stop offset="0.833" stop-color="#000" stop-opacity="0.0121"/><stop offset="0.917" stop-color="#000" stop-opacity="0.0048"/><stop offset="1.000" stop-color="#000" stop-opacity="0.0000"/></radialGradient>
<radialGradient id="g50"><stop offset="0.000" stop-color="#000" stop-opacity="0.1300"/><stop offset="0.083" stop-color="#000" stop-opacity="0.1269"/><stop offset="0.167" stop-color="#000" stop-opacity="0.1179"/><stop offset="0.250" stop-color="#000" stop-opacity="0.1044"/><stop offset="0.333" stop-color="#000" stop-opacity="0.0879"/><stop offset="0.417" stop-color="#000" stop-opacity="0.0703"/><stop offset="0.500" stop-color="#000" stop-opacity="0.0532"/><stop offset="0.583" stop-color="#000" stop-opacity="0.0380"/><stop offset="0.667" stop-color="#000" stop-opacity="0.0254"/><stop offset="0.750" stop-color="#000" stop-opacity="0.0155"/><stop offset="0.833" stop-color="#000" stop-opacity="0.0083"/><stop offset="0.917" stop-color="#000" stop-opacity="0.0033"/><stop offset="1.000" stop-color="#000" stop-opacity="0.0000"/></radialGradient>
<radialGradient id="g51"><stop offset="0.000" stop-color="#fff" stop-opacity="0.0800"/><stop offset="0.083" stop-color="#fff" stop-opacity="0.0781"/><stop offset="0.167" stop-color="#fff" stop-opacity="0.0726"/><stop offset="0.250" stop-color="#fff" stop-opacity="0.0642"/><stop offset="0.333" stop-color="#fff" stop-opacity="0.0541"/><stop offset="0.417" stop-color="#fff" stop-opacity="0.0432"/><stop offset="0.500" stop-color="#fff" stop-opacity="0.0328"/><stop offset="0.583" stop-color="#fff" stop-opacity="0.0234"/><stop offset="0.667" stop-color="#fff" stop-opacity="0.0156"/><stop offset="0.750" stop-color="#fff" stop-opacity="0.0096"/><stop offset="0.833" stop-color="#fff" stop-opacity="0.0051"/><stop offset="0.917" stop-color="#fff" stop-opacity="0.0020"/><stop offset="1.000" stop-color="#fff" stop-opacity="0.0000"/></radialGradient>
<radialGradient id="g52"><stop offset="0.000" stop-color="#fff" stop-opacity="1.0000"/><stop offset="0.083" stop-color="#fff" stop-opacity="0.9861"/><stop offset="0.167" stop-color="#fff" stop-opacity="0.9451"/><stop offset="0.250" stop-color="#fff" stop-opacity="0.8799"/><stop offset="0.333" stop-color="#fff" stop-opacity="0.7946"/><stop offset="0.417" stop-color="#fff" stop-opacity="0.6944"/><stop offset="0.500" stop-color="#fff" stop-opacity="0.5848"/><stop offset="0.583" stop-color="#fff" stop-opacity="0.4717"/><stop offset="0.667" stop-color="#fff" stop-opacity="0.3601"/><stop offset="0.750" stop-color="#fff" stop-opacity="0.2545"/><stop offset="0.833" stop-color="#fff" stop-opacity="0.1580"/><stop offset="0.917" stop-color="#fff" stop-opacity="0.0729"/><stop offset="1.000" stop-color="#fff" stop-opacity="0.0000"/></radialGradient>
<radialGradient id="g53"><stop offset="0.000" stop-color="#000" stop-opacity="1.0000"/><stop offset="0.083" stop-color="#000" stop-opacity="0.9865"/><stop offset="0.167" stop-color="#000" stop-opacity="0.9469"/><stop offset="0.250" stop-color="#000" stop-opacity="0.8835"/><stop offset="0.333" stop-color="#000" stop-opacity="0.8004"/><stop offset="0.417" stop-color="#000" stop-opacity="0.7021"/><stop offset="0.500" stop-color="#000" stop-opacity="0.5942"/><stop offset="0.583" stop-color="#000" stop-opacity="0.4818"/><stop offset="0.667" stop-color="#000" stop-opacity="0.3701"/><stop offset="0.750" stop-color="#000" stop-opacity="0.2633"/><stop offset="0.833" stop-color="#000" stop-opacity="0.1646"/><stop offset="0.917" stop-color="#000" stop-opacity="0.0765"/><stop offset="1.000" stop-color="#000" stop-opacity="0.0000"/></radialGradient>
<clipPath id="c20"><rect x="8.5" y="596.5" width="194.9" height="193.75"/></clipPath>
<filter id="n20" x="0" y="0" width="100%" height="100%" color-interpolation-filters="sRGB"><feTurbulence type="fractalNoise" baseFrequency="0.13" numOctaves="1" seed="10" result="t"/><feColorMatrix in="t" type="matrix" values="0.03 0 0 0 0 0.03 0 0 0 0 0.03 0 0 0 0 0 0 0 0 1" result="n"/><feComposite in="SourceGraphic" in2="n" operator="arithmetic" k1="0" k2="1" k3="1" k4="-0.0150"/></filter>
<radialGradient id="g54"><stop offset="0.000" stop-color="#000" stop-opacity="0.3000"/><stop offset="0.083" stop-color="#000" stop-opacity="0.2928"/><stop offset="0.167" stop-color="#000" stop-opacity="0.2722"/><stop offset="0.250" stop-color="#000" stop-opacity="0.2409"/><stop offset="0.333" stop-color="#000" stop-opacity="0.2028"/><stop offset="0.417" stop-color="#000" stop-opacity="0.1621"/><stop offset="0.500" stop-color="#000" stop-opacity="0.1228"/><stop offset="0.583" stop-color="#000" stop-opacity="0.0878"/><stop offset="0.667" stop-color="#000" stop-opacity="0.0586"/><stop offset="0.750" stop-color="#000" stop-opacity="0.0358"/><stop offset="0.833" stop-color="#000" stop-opacity="0.0191"/><stop offset="0.917" stop-color="#000" stop-opacity="0.0076"/><stop offset="1.000" stop-color="#000" stop-opacity="0.0000"/></radialGradient>
<radialGradient id="g55"><stop offset="0.000" stop-color="#fff" stop-opacity="0.0700"/><stop offset="0.083" stop-color="#fff" stop-opacity="0.0683"/><stop offset="0.167" stop-color="#fff" stop-opacity="0.0635"/><stop offset="0.250" stop-color="#fff" stop-opacity="0.0562"/><stop offset="0.333" stop-color="#fff" stop-opacity="0.0473"/><stop offset="0.417" stop-color="#fff" stop-opacity="0.0378"/><stop offset="0.500" stop-color="#fff" stop-opacity="0.0287"/><stop offset="0.583" stop-color="#fff" stop-opacity="0.0205"/><stop offset="0.667" stop-color="#fff" stop-opacity="0.0137"/><stop offset="0.750" stop-color="#fff" stop-opacity="0.0084"/><stop offset="0.833" stop-color="#fff" stop-opacity="0.0045"/><stop offset="0.917" stop-color="#fff" stop-opacity="0.0018"/><stop offset="1.000" stop-color="#fff" stop-opacity="0.0000"/></radialGradient>
<radialGradient id="g56"><stop offset="0.000" stop-color="#fff" stop-opacity="0.1200"/><stop offset="0.083" stop-color="#fff" stop-opacity="0.1183"/><stop offset="0.167" stop-color="#fff" stop-opacity="0.1134"/><stop offset="0.250" stop-color="#fff" stop-opacity="0.1056"/><stop offset="0.333" stop-color="#fff" stop-opacity="0.0954"/><stop offset="0.417" stop-color="#fff" stop-opacity="0.0833"/><stop offset="0.500" stop-color="#fff" stop-opacity="0.0702"/><stop offset="0.583" stop-color="#fff" stop-opacity="0.0566"/><stop offset="0.667" stop-color="#fff" stop-opacity="0.0432"/><stop offset="0.750" stop-color="#fff" stop-opacity="0.0305"/><stop offset="0.833" stop-color="#fff" stop-opacity="0.0190"/><stop offset="0.917" stop-color="#fff" stop-opacity="0.0087"/><stop offset="1.000" stop-color="#fff" stop-opacity="0.0000"/></radialGradient>
<radialGradient id="g57"><stop offset="0.000" stop-color="#000" stop-opacity="0.3200"/><stop offset="0.083" stop-color="#000" stop-opacity="0.3155"/><stop offset="0.167" stop-color="#000" stop-opacity="0.3024"/><stop offset="0.250" stop-color="#000" stop-opacity="0.2816"/><stop offset="0.333" stop-color="#000" stop-opacity="0.2543"/><stop offset="0.417" stop-color="#000" stop-opacity="0.2222"/><stop offset="0.500" stop-color="#000" stop-opacity="0.1871"/><stop offset="0.583" stop-color="#000" stop-opacity="0.1509"/><stop offset="0.667" stop-color="#000" stop-opacity="0.1152"/><stop offset="0.750" stop-color="#000" stop-opacity="0.0814"/><stop offset="0.833" stop-color="#000" stop-opacity="0.0506"/><stop offset="0.917" stop-color="#000" stop-opacity="0.0233"/><stop offset="1.000" stop-color="#000" stop-opacity="0.0000"/></radialGradient>
<radialGradient id="g58"><stop offset="0.000" stop-color="#fff" stop-opacity="1.0000"/><stop offset="0.083" stop-color="#fff" stop-opacity="0.9840"/><stop offset="0.167" stop-color="#fff" stop-opacity="0.9375"/><stop offset="0.250" stop-color="#fff" stop-opacity="0.8641"/><stop offset="0.333" stop-color="#fff" stop-opacity="0.7695"/><stop offset="0.417" stop-color="#fff" stop-opacity="0.6607"/><stop offset="0.500" stop-color="#fff" stop-opacity="0.5449"/><stop offset="0.583" stop-color="#fff" stop-opacity="0.4291"/><stop offset="0.667" stop-color="#fff" stop-opacity="0.3189"/><stop offset="0.750" stop-color="#fff" stop-opacity="0.2189"/><stop offset="0.833" stop-color="#fff" stop-opacity="0.1319"/><stop offset="0.917" stop-color="#fff" stop-opacity="0.0589"/><stop offset="1.000" stop-color="#fff" stop-opacity="0.0000"/></radialGradient>
<radialGradient id="g59"><stop offset="0.000" stop-color="#000" stop-opacity="1.0000"/><stop offset="0.083" stop-color="#000" stop-opacity="1.0000"/><stop offset="0.167" stop-color="#000" stop-opacity="1.0000"/><stop offset="0.250" stop-color="#000" stop-opacity="0.9770"/><stop offset="0.333" stop-color="#000" stop-opacity="0.8764"/><stop offset="0.417" stop-color="#000" stop-opacity="0.7594"/><stop offset="0.500" stop-color="#000" stop-opacity="0.6332"/><stop offset="0.583" stop-color="#000" stop-opacity="0.5048"/><stop offset="0.667" stop-color="#000" stop-opacity="0.3805"/><stop offset="0.750" stop-color="#000" stop-opacity="0.2652"/><stop offset="0.833" stop-color="#000" stop-opacity="0.1622"/><stop offset="0.917" stop-color="#000" stop-opacity="0.0737"/><stop offset="1.000" stop-color="#000" stop-opacity="0.0000"/></radialGradient>
<clipPath id="c21"><rect x="204.5" y="596.5" width="194.89999999999998" height="193.75"/></clipPath>
<filter id="n21" x="0" y="0" width="100%" height="100%" color-interpolation-filters="sRGB"><feTurbulence type="fractalNoise" baseFrequency="0.13" numOctaves="1" seed="11" result="t"/><feColorMatrix in="t" type="matrix" values="0.03 0 0 0 0 0.03 0 0 0 0 0.03 0 0 0 0 0 0 0 0 1" result="n"/><feComposite in="SourceGraphic" in2="n" operator="arithmetic" k1="0" k2="1" k3="1" k4="-0.0150"/></filter>
<radialGradient id="g60"><stop offset="0.000" stop-color="#000" stop-opacity="0.2100"/><stop offset="0.083" stop-color="#000" stop-opacity="0.2050"/><stop offset="0.167" stop-color="#000" stop-opacity="0.1905"/><stop offset="0.250" stop-color="#000" stop-opacity="0.1686"/><stop offset="0.333" stop-color="#000" stop-opacity="0.1419"/><stop offset="0.417" stop-color="#000" stop-opacity="0.1135"/><stop offset="0.500" stop-color="#000" stop-opacity="0.0860"/><stop offset="0.583" stop-color="#000" stop-opacity="0.0614"/><stop offset="0.667" stop-color="#000" stop-opacity="0.0410"/><stop offset="0.750" stop-color="#000" stop-opacity="0.0251"/><stop offset="0.833" stop-color="#000" stop-opacity="0.0134"/><stop offset="0.917" stop-color="#000" stop-opacity="0.0053"/><stop offset="1.000" stop-color="#000" stop-opacity="0.0000"/></radialGradient>
<radialGradient id="g61"><stop offset="0.000" stop-color="#fff" stop-opacity="0.1000"/><stop offset="0.083" stop-color="#fff" stop-opacity="0.0976"/><stop offset="0.167" stop-color="#fff" stop-opacity="0.0907"/><stop offset="0.250" stop-color="#fff" stop-opacity="0.0803"/><stop offset="0.333" stop-color="#fff" stop-opacity="0.0676"/><stop offset="0.417" stop-color="#fff" stop-opacity="0.0540"/><stop offset="0.500" stop-color="#fff" stop-opacity="0.0409"/><stop offset="0.583" stop-color="#fff" stop-opacity="0.0293"/><stop offset="0.667" stop-color="#fff" stop-opacity="0.0195"/><stop offset="0.750" stop-color="#fff" stop-opacity="0.0119"/><stop offset="0.833" stop-color="#fff" stop-opacity="0.0064"/><stop offset="0.917" stop-color="#fff" stop-opacity="0.0025"/><stop offset="1.000" stop-color="#fff" stop-opacity="0.0000"/></radialGradient>
<radialGradient id="g62"><stop offset="0.000" stop-color="#fff" stop-opacity="0.1200"/><stop offset="0.083" stop-color="#fff" stop-opacity="0.1171"/><stop offset="0.167" stop-color="#fff" stop-opacity="0.1089"/><stop offset="0.250" stop-color="#fff" stop-opacity="0.0963"/><stop offset="0.333" stop-color="#fff" stop-opacity="0.0811"/><stop offset="0.417" stop-color="#fff" stop-opacity="0.0649"/><stop offset="0.500" stop-color="#fff" stop-opacity="0.0491"/><stop offset="0.583" stop-color="#fff" stop-opacity="0.0351"/><stop offset="0.667" stop-color="#fff" stop-opacity="0.0234"/><stop offset="0.750" stop-color="#fff" stop-opacity="0.0143"/><stop offset="0.833" stop-color="#fff" stop-opacity="0.0077"/><stop offset="0.917" stop-color="#fff" stop-opacity="0.0030"/><stop offset="1.000" stop-color="#fff" stop-opacity="0.0000"/></radialGradient>
<radialGradient id="g63"><stop offset="0.000" stop-color="#000" stop-opacity="0.0800"/><stop offset="0.083" stop-color="#000" stop-opacity="0.0781"/><stop offset="0.167" stop-color="#000" stop-opacity="0.0726"/><stop offset="0.250" stop-color="#000" stop-opacity="0.0642"/><stop offset="0.333" stop-color="#000" stop-opacity="0.0541"/><stop offset="0.417" stop-color="#000" stop-opacity="0.0432"/><stop offset="0.500" stop-color="#000" stop-opacity="0.0328"/><stop offset="0.583" stop-color="#000" stop-opacity="0.0234"/><stop offset="0.667" stop-color="#000" stop-opacity="0.0156"/><stop offset="0.750" stop-color="#000" stop-opacity="0.0096"/><stop offset="0.833" stop-color="#000" stop-opacity="0.0051"/><stop offset="0.917" stop-color="#000" stop-opacity="0.0020"/><stop offset="1.000" stop-color="#000" stop-opacity="0.0000"/></radialGradient>
<radialGradient id="g64"><stop offset="0.000" stop-color="#fff" stop-opacity="0.1000"/><stop offset="0.083" stop-color="#fff" stop-opacity="0.0986"/><stop offset="0.167" stop-color="#fff" stop-opacity="0.0945"/><stop offset="0.250" stop-color="#fff" stop-opacity="0.0880"/><stop offset="0.333" stop-color="#fff" stop-opacity="0.0795"/><stop offset="0.417" stop-color="#fff" stop-opacity="0.0694"/><stop offset="0.500" stop-color="#fff" stop-opacity="0.0585"/><stop offset="0.583" stop-color="#fff" stop-opacity="0.0472"/><stop offset="0.667" stop-color="#fff" stop-opacity="0.0360"/><stop offset="0.750" stop-color="#fff" stop-opacity="0.0254"/><stop offset="0.833" stop-color="#fff" stop-opacity="0.0158"/><stop offset="0.917" stop-color="#fff" stop-opacity="0.0073"/><stop offset="1.000" stop-color="#fff" stop-opacity="0.0000"/></radialGradient>
<radialGradient id="g65"><stop offset="0.000" stop-color="#000" stop-opacity="0.2400"/><stop offset="0.083" stop-color="#000" stop-opacity="0.2367"/><stop offset="0.167" stop-color="#000" stop-opacity="0.2268"/><stop offset="0.250" stop-color="#000" stop-opacity="0.2112"/><stop offset="0.333" stop-color="#000" stop-opacity="0.1907"/><stop offset="0.417" stop-color="#000" stop-opacity="0.1666"/><stop offset="0.500" stop-color="#000" stop-opacity="0.1404"/><stop offset="0.583" stop-color="#000" stop-opacity="0.1132"/><stop offset="0.667" stop-color="#000" stop-opacity="0.0864"/><stop offset="0.750" stop-color="#000" stop-opacity="0.0611"/><stop offset="0.833" stop-color="#000" stop-opacity="0.0379"/><stop offset="0.917" stop-color="#000" stop-opacity="0.0175"/><stop offset="1.000" stop-color="#000" stop-opacity="0.0000"/></radialGradient>
<radialGradient id="g66"><stop offset="0.000" stop-color="#fff" stop-opacity="1.0000"/><stop offset="0.083" stop-color="#fff" stop-opacity="0.9840"/><stop offset="0.167" stop-color="#fff" stop-opacity="0.9375"/><stop offset="0.250" stop-color="#fff" stop-opacity="0.8641"/><stop offset="0.333" stop-color="#fff" stop-opacity="0.7695"/><stop offset="0.417" stop-color="#fff" stop-opacity="0.6607"/><stop offset="0.500" stop-color="#fff" stop-opacity="0.5449"/><stop offset="0.583" stop-color="#fff" stop-opacity="0.4291"/><stop offset="0.667" stop-color="#fff" stop-opacity="0.3189"/><stop offset="0.750" stop-color="#fff" stop-opacity="0.2189"/><stop offset="0.833" stop-color="#fff" stop-opacity="0.1319"/><stop offset="0.917" stop-color="#fff" stop-opacity="0.0589"/><stop offset="1.000" stop-color="#fff" stop-opacity="0.0000"/></radialGradient>
<radialGradient id="g67"><stop offset="0.000" stop-color="#000" stop-opacity="1.0000"/><stop offset="0.083" stop-color="#000" stop-opacity="1.0000"/><stop offset="0.167" stop-color="#000" stop-opacity="0.9844"/><stop offset="0.250" stop-color="#000" stop-opacity="0.9073"/><stop offset="0.333" stop-color="#000" stop-opacity="0.8080"/><stop offset="0.417" stop-color="#000" stop-opacity="0.6938"/><stop offset="0.500" stop-color="#000" stop-opacity="0.5722"/><stop offset="0.583" stop-color="#000" stop-opacity="0.4505"/><stop offset="0.667" stop-color="#000" stop-opacity="0.3349"/><stop offset="0.750" stop-color="#000" stop-opacity="0.2299"/><stop offset="0.833" stop-color="#000" stop-opacity="0.1385"/><stop offset="0.917" stop-color="#000" stop-opacity="0.0619"/><stop offset="1.000" stop-color="#000" stop-opacity="0.0000"/></radialGradient>
<clipPath id="c22"><rect x="400.5" y="596.5" width="194.89999999999998" height="193.75"/></clipPath>
<filter id="n22" x="0" y="0" width="100%" height="100%" color-interpolation-filters="sRGB"><feTurbulence type="fractalNoise" baseFrequency="0.13" numOctaves="1" seed="12" result="t"/><feColorMatrix in="t" type="matrix" values="0.03 0 0 0 0 0.03 0 0 0 0 0.03 0 0 0 0 0 0 0 0 1" result="n"/><feComposite in="SourceGraphic" in2="n" operator="arithmetic" k1="0" k2="1" k3="1" k4="-0.0150"/></filter>
<radialGradient id="g68"><stop offset="0.000" stop-color="#000" stop-opacity="0.3600"/><stop offset="0.083" stop-color="#000" stop-opacity="0.3514"/><stop offset="0.167" stop-color="#000" stop-opacity="0.3266"/><stop offset="0.250" stop-color="#000" stop-opacity="0.2890"/><stop offset="0.333" stop-color="#000" stop-opacity="0.2433"/><stop offset="0.417" stop-color="#000" stop-opacity="0.1946"/><stop offset="0.500" stop-color="#000" stop-opacity="0.1474"/><stop offset="0.583" stop-color="#000" stop-opacity="0.1053"/><stop offset="0.667" stop-color="#000" stop-opacity="0.0703"/><stop offset="0.750" stop-color="#000" stop-opacity="0.0430"/><stop offset="0.833" stop-color="#000" stop-opacity="0.0230"/><stop offset="0.917" stop-color="#000" stop-opacity="0.0091"/><stop offset="1.000" stop-color="#000" stop-opacity="0.0000"/></radialGradient>
<radialGradient id="g69"><stop offset="0.000" stop-color="#000" stop-opacity="0.0800"/><stop offset="0.083" stop-color="#000" stop-opacity="0.0781"/><stop offset="0.167" stop-color="#000" stop-opacity="0.0726"/><stop offset="0.250" stop-color="#000" stop-opacity="0.0642"/><stop offset="0.333" stop-color="#000" stop-opacity="0.0541"/><stop offset="0.417" stop-color="#000" stop-opacity="0.0432"/><stop offset="0.500" stop-color="#000" stop-opacity="0.0328"/><stop offset="0.583" stop-color="#000" stop-opacity="0.0234"/><stop offset="0.667" stop-color="#000" stop-opacity="0.0156"/><stop offset="0.750" stop-color="#000" stop-opacity="0.0096"/><stop offset="0.833" stop-color="#000" stop-opacity="0.0051"/><stop offset="0.917" stop-color="#000" stop-opacity="0.0020"/><stop offset="1.000" stop-color="#000" stop-opacity="0.0000"/></radialGradient>
<radialGradient id="g70"><stop offset="0.000" stop-color="#fff" stop-opacity="0.000"/><stop offset="0.585" stop-color="#fff" stop-opacity="0.000"/><stop offset="0.793" stop-color="#fff" stop-opacity="0.150"/><stop offset="1.000" stop-color="#fff" stop-opacity="0.000"/></radialGradient>
<radialGradient id="g71"><stop offset="0.000" stop-color="#000" stop-opacity="0.000"/><stop offset="0.428" stop-color="#000" stop-opacity="0.000"/><stop offset="0.714" stop-color="#000" stop-opacity="0.420"/><stop offset="1.000" stop-color="#000" stop-opacity="0.000"/></radialGradient>
<radialGradient id="g72"><stop offset="0.000" stop-color="#000" stop-opacity="0.3500"/><stop offset="0.083" stop-color="#000" stop-opacity="0.3416"/><stop offset="0.167" stop-color="#000" stop-opacity="0.3175"/><stop offset="0.250" stop-color="#000" stop-opacity="0.2810"/><stop offset="0.333" stop-color="#000" stop-opacity="0.2366"/><stop offset="0.417" stop-color="#000" stop-opacity="0.1892"/><stop offset="0.500" stop-color="#000" stop-opacity="0.1433"/><stop offset="0.583" stop-color="#000" stop-opacity="0.1024"/><stop offset="0.667" stop-color="#000" stop-opacity="0.0683"/><stop offset="0.750" stop-color="#000" stop-opacity="0.0418"/><stop offset="0.833" stop-color="#000" stop-opacity="0.0223"/><stop offset="0.917" stop-color="#000" stop-opacity="0.0088"/><stop offset="1.000" stop-color="#000" stop-opacity="0.0000"/></radialGradient>
<radialGradient id="g73"><stop offset="0.000" stop-color="#000" stop-opacity="0.3000"/><stop offset="0.083" stop-color="#000" stop-opacity="0.2928"/><stop offset="0.167" stop-color="#000" stop-opacity="0.2722"/><stop offset="0.250" stop-color="#000" stop-opacity="0.2409"/><stop offset="0.333" stop-color="#000" stop-opacity="0.2028"/><stop offset="0.417" stop-color="#000" stop-opacity="0.1621"/><stop offset="0.500" stop-color="#000" stop-opacity="0.1228"/><stop offset="0.583" stop-color="#000" stop-opacity="0.0878"/><stop offset="0.667" stop-color="#000" stop-opacity="0.0586"/><stop offset="0.750" stop-color="#000" stop-opacity="0.0358"/><stop offset="0.833" stop-color="#000" stop-opacity="0.0191"/><stop offset="0.917" stop-color="#000" stop-opacity="0.0076"/><stop offset="1.000" stop-color="#000" stop-opacity="0.0000"/></radialGradient>
<radialGradient id="g74"><stop offset="0.000" stop-color="#000" stop-opacity="0.1500"/><stop offset="0.083" stop-color="#000" stop-opacity="0.1464"/><stop offset="0.167" stop-color="#000" stop-opacity="0.1361"/><stop offset="0.250" stop-color="#000" stop-opacity="0.1204"/><stop offset="0.333" stop-color="#000" stop-opacity="0.1014"/><stop offset="0.417" stop-color="#000" stop-opacity="0.0811"/><stop offset="0.500" stop-color="#000" stop-opacity="0.0614"/><stop offset="0.583" stop-color="#000" stop-opacity="0.0439"/><stop offset="0.667" stop-color="#000" stop-opacity="0.0293"/><stop offset="0.750" stop-color="#000" stop-opacity="0.0179"/><stop offset="0.833" stop-color="#000" stop-opacity="0.0096"/><stop offset="0.917" stop-color="#000" stop-opacity="0.0038"/><stop offset="1.000" stop-color="#000" stop-opacity="0.0000"/></radialGradient>
<radialGradient id="g75"><stop offset="0.000" stop-color="#fff" stop-opacity="0.950"/><stop offset="0.500" stop-color="#fff" stop-opacity="0.950"/><stop offset="0.583" stop-color="#fff" stop-opacity="0.886"/><stop offset="0.667" stop-color="#fff" stop-opacity="0.712"/><stop offset="0.750" stop-color="#fff" stop-opacity="0.475"/><stop offset="0.833" stop-color="#fff" stop-opacity="0.238"/><stop offset="0.917" stop-color="#fff" stop-opacity="0.064"/><stop offset="1.000" stop-color="#fff" stop-opacity="0.000"/></radialGradient>
<radialGradient id="g76"><stop offset="0.000" stop-color="#000" stop-opacity="1.000"/><stop offset="0.400" stop-color="#000" stop-opacity="1.000"/><stop offset="0.500" stop-color="#000" stop-opacity="0.933"/><stop offset="0.600" stop-color="#000" stop-opacity="0.750"/><stop offset="0.700" stop-color="#000" stop-opacity="0.500"/><stop offset="0.800" stop-color="#000" stop-opacity="0.250"/><stop offset="0.900" stop-color="#000" stop-opacity="0.067"/><stop offset="1.000" stop-color="#000" stop-opacity="0.000"/></radialGradient>
<clipPath id="c23"><rect x="596.5" y="596.5" width="194.89999999999998" height="193.75"/></clipPath>
<filter id="n23" x="0" y="0" width="100%" height="100%" color-interpolation-filters="sRGB"><feTurbulence type="fractalNoise" baseFrequency="0.13" numOctaves="1" seed="13" result="t"/><feColorMatrix in="t" type="matrix" values="0.045 0 0 0 0 0.045 0 0 0 0 0.045 0 0 0 0 0 0 0 0 1" result="n"/><feComposite in="SourceGraphic" in2="n" operator="arithmetic" k1="0" k2="1" k3="1" k4="-0.0225"/></filter>
</defs>
<rect width="800" height="800" fill="#fff"/>
<g id="hdr">
<text x="40" y="64" font-size="24" fill="#000">#32</text>
<text x="113.3" y="64" font-size="24" fill="#000">RA=10:01:40.944</text>
<text x="334.5" y="64" font-size="24" fill="#000">DEC=</text>
<text x="411.5" y="64" font-size="24" fill="#000">1:56:42.92</text>
<text x="589.5" y="64" font-size="24" fill="#000">score=60.0</text>
<text x="103.3" y="104" font-size="16.67" fill="#000">xc</text>
<text x="185.1" y="104" font-size="16.67" fill="#000">yc</text>
<text x="245.8" y="104" font-size="16.67" fill="#000">fwhm</text>
<text x="302.4" y="104" font-size="16.67" fill="#000">fluxrad</text>
<text x="371.3" y="104" font-size="16.67" fill="#000">isoarea</text>
<text x="437.4" y="104" font-size="16.67" fill="#000">mag</text>
<text x="479.4" y="104" font-size="16.67" fill="#000">auto</text>
<text x="532.6" y="104" font-size="16.67" fill="#000">aper</text>
<text x="581.1" y="104" font-size="16.67" fill="#000">cl</text>
<text x="600.4" y="104" font-size="16.67" fill="#000">star</text>
<text x="638.5" y="104" font-size="16.67" fill="#000">phmag</text>
<text x="39.5" y="128" font-size="16.67" fill="#000">dif</text>
<text x="81.8" y="128" font-size="16.67" fill="#000">3821.05</text>
<text x="166.3" y="128" font-size="16.67" fill="#000">5099.19</text>
<text x="256.1" y="128" font-size="16.67" fill="#000">4.36</text>
<text x="313.8" y="128" font-size="16.67" fill="#000">2.56</text>
<text x="377.9" y="128" font-size="16.67" fill="#000">72.00</text>
<text x="450.8" y="128" font-size="16.67" fill="#000">21.77</text>
<text x="519.8" y="128" font-size="16.67" fill="#000">21.86</text>
<text x="588.4" y="128" font-size="16.67" fill="#000">0.96</text>
<text x="662.5" y="128" font-size="16.67" fill="#000">22.33</text>
<text x="39.5" y="152" font-size="16.67" fill="#000">ref</text>
<text x="83.2" y="152" font-size="16.67" fill="#000">3819.56</text>
<text x="167.3" y="152" font-size="16.67" fill="#000">5100.42</text>
<text x="257.3" y="152" font-size="16.67" fill="#000">5.78</text>
<text x="315.2" y="152" font-size="16.67" fill="#000">4.50</text>
<text x="373.8" y="152" font-size="16.67" fill="#000">609.00</text>
<text x="458.2" y="152" font-size="16.67" fill="#000">18.62</text>
<text x="526.6" y="152" font-size="16.67" fill="#000">18.84</text>
<text x="595.1" y="152" font-size="16.67" fill="#000">0.41</text>
<text x="663.7" y="152" font-size="16.67" fill="#000">19.89</text>
<text x="717.2" y="152" font-size="16.67" fill="#000">ref</text>
<text x="663.7" y="176" font-size="16.67" fill="#000">19.88</text>
<text x="717.2" y="176" font-size="16.67" fill="#000">new</text>
<text x="79.7" y="184" font-size="20" fill="#000">dist=</text>
<text x="145.4" y="184" font-size="20" fill="#000">1.94</text>
<text x="227.8" y="184" font-size="20" fill="#000">z=9.9900</text>
</g>
<g id="imgs">
<g clip-path="url(#c00)"><g><rect x="6.5" y="202.5" width="200.0" height="200.0" fill="#fff"/><ellipse cx="174.0" cy="343.2" rx="44" ry="44" fill="url(#g1)"/><ellipse cx="174.0" cy="343.2" rx="24" ry="24" fill="url(#g2)"/><ellipse cx="174.0" cy="343.2" rx="12.5" ry="12.5" fill="url(#g3)"/><ellipse cx="101.2" cy="300.8" rx="14" ry="14" fill="url(#g4)"/></g></g>
<g clip-path="url(#c01)"><g filter="url(#n01)"><rect x="202.5" y="202.5" width="200.0" height="200.0" fill="#5f5f5f"/><ellipse cx="300.3" cy="301.8" rx="19" ry="19" fill="url(#g5)"/><ellipse cx="300.3" cy="301.8" rx="9" ry="9" fill="url(#g6)"/><ellipse cx="255" cy="370" rx="5" ry="5" fill="url(#g7)"/><ellipse cx="380.2" cy="349.4" rx="25" ry="25" fill="url(#g8)"/><ellipse cx="350.2" cy="318.4" rx="12" ry="12" fill="url(#g9)"/><ellipse cx="344.2" cy="342.4" rx="12" ry="12" fill="url(#g10)"/><ellipse cx="363.5" cy="341.6" rx="10.5" ry="15" fill="url(#g11)" transform="rotate(33 363.5 341.6)"/><ellipse cx="366.5" cy="336.69999999999993" rx="9" ry="9" fill="url(#g12)"/><ellipse cx="375.7" cy="348.69999999999993" rx="12" ry="12" fill="url(#g13)"/></g></g>
<g clip-path="url(#c02)"><g><rect x="398.5" y="202.5" width="200.0" height="200.0" fill="#fff"/><ellipse cx="566.0" cy="343.2" rx="44" ry="44" fill="url(#g14)"/><ellipse cx="566.0" cy="343.2" rx="24" ry="24" fill="url(#g15)"/><ellipse cx="566.0" cy="343.2" rx="12.5" ry="12.5" fill="url(#g16)"/><ellipse cx="493.2" cy="300.8" rx="14" ry="14" fill="url(#g17)"/></g></g>
<g clip-path="url(#c10)"><g filter="url(#n10)"><rect x="6.5" y="398.5" width="198.9" height="197.75" fill="#6e6e6e"/><ellipse cx="102" cy="497.2" rx="10.5" ry="10.5" fill="url(#g18)"/><ellipse cx="95.8" cy="499.4" rx="8" ry="8" fill="url(#g19)"/><ellipse cx="160" cy="529" rx="22" ry="22" fill="url(#g20)"/><ellipse cx="176" cy="545" rx="20" ry="20" fill="url(#g21)"/><ellipse cx="162.5" cy="532.6" rx="13.5" ry="7.5" fill="url(#g22)" transform="rotate(10 162.5 532.6)"/><ellipse cx="167.5" cy="531" rx="11" ry="11" fill="url(#g23)"/><ellipse cx="169.3" cy="535.6" rx="7.5" ry="7.5" fill="url(#g24)"/><ellipse cx="173.2" cy="543.0" rx="9.5" ry="6.5" fill="url(#g25)" transform="rotate(-22 173.2 543.0)"/><ellipse cx="177.8" cy="539.6" rx="5.2" ry="5.2" fill="url(#g26)"/></g></g>
<g clip-path="url(#c11)"><g filter="url(#n11)"><rect x="202.5" y="398.5" width="198.89999999999998" height="197.75" fill="#5f5f5f"/><ellipse cx="298.4" cy="494.3" rx="17" ry="17" fill="url(#g27)"/><ellipse cx="298.4" cy="494.3" rx="9" ry="9" fill="url(#g28)"/><ellipse cx="254.2" cy="563.7" rx="5" ry="5" fill="url(#g29)"/><ellipse cx="378" cy="543" rx="25" ry="25" fill="url(#g30)"/><ellipse cx="348" cy="512" rx="12" ry="12" fill="url(#g31)"/><ellipse cx="342" cy="536" rx="12" ry="12" fill="url(#g32)"/><ellipse cx="361.3" cy="535.2" rx="10.5" ry="15" fill="url(#g33)" transform="rotate(33 361.3 535.2)"/><ellipse cx="364.3" cy="530.3" rx="9" ry="9" fill="url(#g34)"/><ellipse cx="373.5" cy="542.3" rx="12" ry="12" fill="url(#g35)"/></g></g>
<g clip-path="url(#c12)"><g filter="url(#n12)"><rect x="398.5" y="398.5" width="198.89999999999998" height="197.75" fill="#5e5e5e"/><ellipse cx="494.2" cy="497.2" rx="16" ry="16" fill="url(#g36)"/><ellipse cx="494.2" cy="497.2" rx="8" ry="8" fill="url(#g37)"/><ellipse cx="561" cy="516" rx="13" ry="13" fill="url(#g38)"/><ellipse cx="543" cy="514" rx="11" ry="11" fill="url(#g39)"/><ellipse cx="564.5" cy="548" rx="21" ry="21" fill="url(#g40)"/><ellipse cx="561" cy="532.6" rx="13" ry="8.5" fill="url(#g41)" transform="rotate(-12 561 532.6)"/><ellipse cx="564.5" cy="547" rx="11.5" ry="11.5" fill="url(#g42)"/></g></g>
<g clip-path="url(#c13)"><g filter="url(#n13)"><rect x="594.5" y="398.5" width="198.89999999999998" height="197.75" fill="#727272"/><ellipse cx="687.2" cy="496.8" rx="20" ry="20" fill="url(#g43)"/><ellipse cx="687.6" cy="497.2" rx="9" ry="9" fill="url(#g44)"/><ellipse cx="776" cy="541" rx="30" ry="30" fill="url(#g45)"/><ellipse cx="744" cy="543" rx="22" ry="22" fill="url(#g46)"/><ellipse cx="767.5" cy="535.5" rx="14.5" ry="9.5" fill="url(#g47)" transform="rotate(45 767.5 535.5)"/><ellipse cx="752" cy="542.5" rx="15.5" ry="10.5" fill="url(#g48)" transform="rotate(50 752 542.5)"/></g></g>
<g clip-path="url(#c20)"><g filter="url(#n20)"><rect x="6.5" y="594.5" width="198.9" height="197.75" fill="#969696"/><ellipse cx="95.8" cy="690.2" rx="10" ry="12.5" fill="url(#g49)"/><ellipse cx="160" cy="726" rx="13" ry="13" fill="url(#g50)"/><ellipse cx="150" cy="736" rx="14" ry="14" fill="url(#g51)"/><ellipse cx="177.8" cy="733" rx="11" ry="14.5" fill="url(#g52)"/><ellipse cx="166.2" cy="732" rx="8" ry="11.5" fill="url(#g53)"/></g></g>
<g clip-path="url(#c21)"><g filter="url(#n21)"><rect x="202.5" y="594.5" width="198.89999999999998" height="197.75" fill="#6a6a6a"/><ellipse cx="299" cy="690" rx="12.5" ry="12.5" fill="url(#g54)"/><ellipse cx="286" cy="696" rx="9" ry="9" fill="url(#g55)"/><ellipse cx="354" cy="739" rx="24" ry="24" fill="url(#g56)"/><ellipse cx="373" cy="727" rx="21" ry="21" fill="url(#g57)"/><ellipse cx="362" cy="735.5" rx="12.5" ry="11.5" fill="url(#g58)"/><ellipse cx="374.8" cy="731.4" rx="8.8" ry="12.5" fill="url(#g59)" transform="rotate(-18 374.8 731.4)"/></g></g>
<g clip-path="url(#c22)"><g filter="url(#n22)"><rect x="398.5" y="594.5" width="198.89999999999998" height="197.75" fill="#9a9a9a"/><ellipse cx="494.8" cy="691.4" rx="12.5" ry="12.5" fill="url(#g60)"/><ellipse cx="481.5" cy="692" rx="7" ry="11" fill="url(#g61)"/><ellipse cx="585" cy="715" rx="14" ry="14" fill="url(#g62)"/><ellipse cx="554" cy="717" rx="10" ry="10" fill="url(#g63)"/><ellipse cx="546" cy="735" rx="16" ry="16" fill="url(#g64)"/><ellipse cx="573" cy="735" rx="19" ry="19" fill="url(#g65)"/><ellipse cx="557" cy="733.6" rx="10.5" ry="14" fill="url(#g66)"/><ellipse cx="570" cy="734.6" rx="8" ry="11" fill="url(#g67)"/></g></g>
<g clip-path="url(#c23)"><g filter="url(#n23)"><rect x="594.5" y="594.5" width="198.89999999999998" height="197.75" fill="#6f6f6f"/><ellipse cx="688.8" cy="691" rx="9.5" ry="9.5" fill="url(#g68)"/><ellipse cx="696" cy="682" rx="9" ry="9" fill="url(#g69)"/><circle cx="759.6" cy="734.5" r="29" fill="url(#g70)"/><circle cx="759.6" cy="734.5" r="21" fill="url(#g71)"/><ellipse cx="761" cy="749.5" rx="9" ry="6" fill="url(#g72)"/><ellipse cx="771.5" cy="722.5" rx="8" ry="8" fill="url(#g73)"/><ellipse cx="745" cy="737" rx="7" ry="7" fill="url(#g74)"/><circle cx="759.6" cy="734.5" r="13.6" fill="url(#g75)"/><circle cx="759.7" cy="734.6" r="7.0" fill="url(#g76)"/></g></g>
</g>
<g id="shapes">
<rect x="596.5" y="204.5" width="196" height="196" fill="#fff"/>
<circle cx="108.25" cy="302.8" r="39.2" fill="none" stroke="#000" stroke-width="1.5"/>
<circle cx="102.3" cy="298.1" r="39.2" fill="none" stroke="#f00" stroke-width="1.5"/>
<circle cx="304.2" cy="304.4" r="39.3" fill="none" stroke="#000" stroke-width="1.5"/>
<circle cx="500.25" cy="302.8" r="39.2" fill="none" stroke="#000" stroke-width="1.5"/>
<circle cx="494.3" cy="298.1" r="39.2" fill="none" stroke="#f00" stroke-width="1.5"/>
<path d="M106.5 400.5V440.0M8.5 499.0H48.0" stroke="#000" stroke-width="1.3" fill="none"/>
<path d="M302.5 400.5V440.0M204.5 499.0H244.0" stroke="#000" stroke-width="1.3" fill="none"/>
<path d="M498.5 400.5V440.0M400.5 499.0H440.0" stroke="#000" stroke-width="1.3" fill="none"/>
<path d="M694.5 400.5V440.0M596.5 499.0H636.0" stroke="#000" stroke-width="1.3" fill="none"/>
<path d="M106.5 596.5V636.0M8.5 695.0H48.0" stroke="#000" stroke-width="1.3" fill="none"/>
<path d="M302.5 596.5V636.0M204.5 695.0H244.0" stroke="#000" stroke-width="1.3" fill="none"/>
<path d="M498.5 596.5V636.0M400.5 695.0H440.0" stroke="#000" stroke-width="1.3" fill="none"/>
<path d="M694.5 596.5V636.0M596.5 695.0H636.0" stroke="#000" stroke-width="1.3" fill="none"/>
<path d="M8.5 203.85V793.15M204.5 203.85V793.15M400.5 203.85V793.15M596.5 203.85V793.15M792.5 203.85V793.15M7.85 204.5H793.15M7.85 400.5H793.15M7.85 596.5H793.15M7.85 792.5H793.15" stroke="#000" stroke-width="1.3" fill="none"/>
</g>
<g id="lc">
<path d="M602.5 400.5v-6.1M602.5 204.5v6.1M660.7 400.5v-6.1M660.7 204.5v6.1M719.1 400.5v-6.1M719.1 204.5v6.1M777.5 400.5v-6.1M777.5 204.5v6.1M596.5 220.5h6.1M792.5 220.5h-6.1M596.5 250.5h6.1M792.5 250.5h-6.1M596.5 280.5h6.1M792.5 280.5h-6.1M596.5 310.5h6.1M792.5 310.5h-6.1M596.5 340.5h6.1M792.5 340.5h-6.1M596.5 370.5h6.1M792.5 370.5h-6.1" stroke="#000" stroke-width="0.8" fill="none"/>
<path d="M598.3 385.0H606.7L602.5 392.5Z" fill="#00f"/>
<circle cx="602.5" cy="385.5" r="3.8" fill="#00f" stroke="#000" stroke-width="0.95"/>
<path d="M602.05 385.0H610.45L606.25 392.5Z" fill="#00f"/>
<circle cx="606.25" cy="385.5" r="3.8" fill="#00f" stroke="#000" stroke-width="0.95"/>
<path d="M608.4 385.0H616.8000000000001L612.6 392.5Z" fill="#00f"/>
<circle cx="612.6" cy="385.5" r="3.8" fill="#00f" stroke="#000" stroke-width="0.95"/>
<path d="M620.3 385.0H628.7L624.5 392.5Z" fill="#00f"/>
<circle cx="624.5" cy="385.5" r="3.8" fill="#00f" stroke="#000" stroke-width="0.95"/>
<path d="M634.3 385.0H642.7L638.5 392.5Z" fill="#00f"/>
<circle cx="638.5" cy="385.5" r="3.8" fill="#00f" stroke="#000" stroke-width="0.95"/>
<path d="M635.8 385.0H644.2L640 392.5Z" fill="#00f"/>
<circle cx="640" cy="385.5" r="3.8" fill="#00f" stroke="#000" stroke-width="0.95"/>
<path d="M639.05 385.0H647.45L643.25 392.5Z" fill="#00f"/>
<circle cx="643.25" cy="385.5" r="3.8" fill="#00f" stroke="#000" stroke-width="0.95"/>
<path d="M646.8 385.0H655.2L651 392.5Z" fill="#00f"/>
<circle cx="651" cy="385.5" r="3.8" fill="#00f" stroke="#000" stroke-width="0.95"/>
<path d="M652.4 385.0H660.8000000000001L656.6 392.5Z" fill="#00f"/>
<circle cx="656.6" cy="385.5" r="3.8" fill="#00f" stroke="#000" stroke-width="0.95"/>
<path d="M668.05 385.0H676.45L672.25 392.5Z" fill="#00f"/>
<circle cx="672.25" cy="385.5" r="3.8" fill="#00f" stroke="#000" stroke-width="0.95"/>
<path d="M670.0 385.0H678.4000000000001L674.2 392.5Z" fill="#00f"/>
<circle cx="674.2" cy="385.5" r="3.8" fill="#00f" stroke="#000" stroke-width="0.95"/>
<path d="M673.3 385.0H681.7L677.5 392.5Z" fill="#00f"/>
<circle cx="677.5" cy="385.5" r="3.8" fill="#00f" stroke="#000" stroke-width="0.95"/>
<path d="M678.5999999999999 385.0H687.0L682.8 392.5Z" fill="#00f"/>
<circle cx="682.8" cy="385.5" r="3.8" fill="#00f" stroke="#000" stroke-width="0.95"/>
<path d="M682.4 385.0H690.8000000000001L686.6 392.5Z" fill="#00f"/>
<circle cx="686.6" cy="385.5" r="3.8" fill="#00f" stroke="#000" stroke-width="0.95"/>
<path d="M686.5999999999999 385.0H695.0L690.8 392.5Z" fill="#00f"/>
<circle cx="690.8" cy="385.5" r="3.8" fill="#00f" stroke="#000" stroke-width="0.95"/>
<path d="M688.6999999999999 385.0H697.1L692.9 392.5Z" fill="#00f"/>
<circle cx="692.9" cy="385.5" r="3.8" fill="#00f" stroke="#000" stroke-width="0.95"/>
<path d="M690.5 385.0H698.9000000000001L694.7 392.5Z" fill="#00f"/>
<circle cx="694.7" cy="385.5" r="3.8" fill="#00f" stroke="#000" stroke-width="0.95"/>
<path d="M698.15 385.0H706.5500000000001L702.35 392.5Z" fill="#00f"/>
<circle cx="702.35" cy="385.5" r="3.8" fill="#00f" stroke="#000" stroke-width="0.95"/>
<path d="M700.8 385.0H709.2L705 392.5Z" fill="#00f"/>
<circle cx="705" cy="385.5" r="3.8" fill="#00f" stroke="#000" stroke-width="0.95"/>
<path d="M703.4 385.0H711.8000000000001L707.6 392.5Z" fill="#00f"/>
<circle cx="707.6" cy="385.5" r="3.8" fill="#00f" stroke="#000" stroke-width="0.95"/>
<path d="M774.3 385.0H782.7L778.5 392.5Z" fill="#00f"/>
<circle cx="778.5" cy="385.5" r="3.8" fill="#00f" stroke="#000" stroke-width="0.95"/>
<path d="M782.15 385.0H790.5500000000001L786.35 392.5Z" fill="#00f"/>
<circle cx="786.35" cy="385.5" r="3.8" fill="#00f" stroke="#000" stroke-width="0.95"/>
<path d="M645.6 289.7V300.7M641.4 289.7h8.4M641.4 300.7h8.4" stroke="#00f" stroke-width="0.85" fill="none"/>
<path d="M648.5 301.59999999999997V320.8M644.3 301.59999999999997h8.4M644.3 320.8h8.4" stroke="#00f" stroke-width="0.85" fill="none"/>
<path d="M680.6 286.5V296.5M676.4 286.5h8.4M676.4 296.5h8.4" stroke="#00f" stroke-width="0.85" fill="none"/>
<path d="M769.5 280.6V288.6M765.3 280.6h8.4M765.3 288.6h8.4" stroke="#00f" stroke-width="0.85" fill="none"/>
<circle cx="617.5" cy="269.4" r="3.8" fill="#00f" stroke="#000" stroke-width="0.95"/>
<circle cx="619.6" cy="274.4" r="3.8" fill="#00f" stroke="#000" stroke-width="0.95"/>
<circle cx="645.6" cy="295.2" r="3.8" fill="#00f" stroke="#000" stroke-width="0.95"/>
<circle cx="648.5" cy="311.2" r="3.8" fill="#00f" stroke="#000" stroke-width="0.95"/>
<circle cx="680.6" cy="291.5" r="3.8" fill="#00f" stroke="#000" stroke-width="0.95"/>
<circle cx="769.5" cy="284.6" r="3.8" fill="#00f" stroke="#000" stroke-width="0.95"/>
<circle cx="771.5" cy="219.6" r="3.8" fill="#00f" stroke="#000" stroke-width="0.95"/>
<text x="590.4" y="224.9" font-size="16.67" fill="#000" text-anchor="end">20</text>
<text x="590.4" y="254.9" font-size="16.67" fill="#000" text-anchor="end">21</text>
<text x="590.4" y="284.9" font-size="16.67" fill="#000" text-anchor="end">22</text>
<text x="590.4" y="314.9" font-size="16.67" fill="#000" text-anchor="end">23</text>
<text x="590.4" y="344.9" font-size="16.67" fill="#000" text-anchor="end">24</text>
<text x="590.4" y="374.9" font-size="16.67" fill="#000" text-anchor="end">25</text>
<text x="590.4" y="404.9" font-size="16.67" fill="#000" text-anchor="end">26</text>
<text x="601.3" y="417.1" font-size="16.67" fill="#000" text-anchor="middle">0</text>
<text x="658.8" y="417.1" font-size="16.67" fill="#000" text-anchor="middle">50</text>
<text x="718.9" y="417.1" font-size="16.67" fill="#000" text-anchor="middle">100</text>
<text x="776.5" y="417.1" font-size="16.67" fill="#000" text-anchor="middle">150</text>
</g>
<g id="labels">
<text x="11.3" y="398" font-size="16.67" fill="#000">20111222</text>
<text x="208.9" y="398" font-size="16.67" fill="#000">-<tspan dx="-0.9">20120511</tspan></text>
<text x="403.2" y="398" font-size="16.67" fill="#000">R20120511</text>
<text x="9.8" y="591.6" font-size="16.67" fill="#000">20111218</text>
<text x="205.8" y="591.6" font-size="16.67" fill="#f00">20111222</text>
<text x="401.8" y="591.6" font-size="16.67" fill="#000">20111227</text>
<text x="597.8" y="591.6" font-size="16.67" fill="#000">20111231</text>
<text x="9.8" y="787.6" font-size="16.67" fill="#000">20120102</text>
<text x="205.8" y="787.6" font-size="16.67" fill="#000">20120106</text>
<text x="401.8" y="787.6" font-size="16.67" fill="#000">20120118</text>
<text x="597.8" y="787.6" font-size="16.67" fill="#000">20120120</text>
</g>
</svg>
</body></html>
